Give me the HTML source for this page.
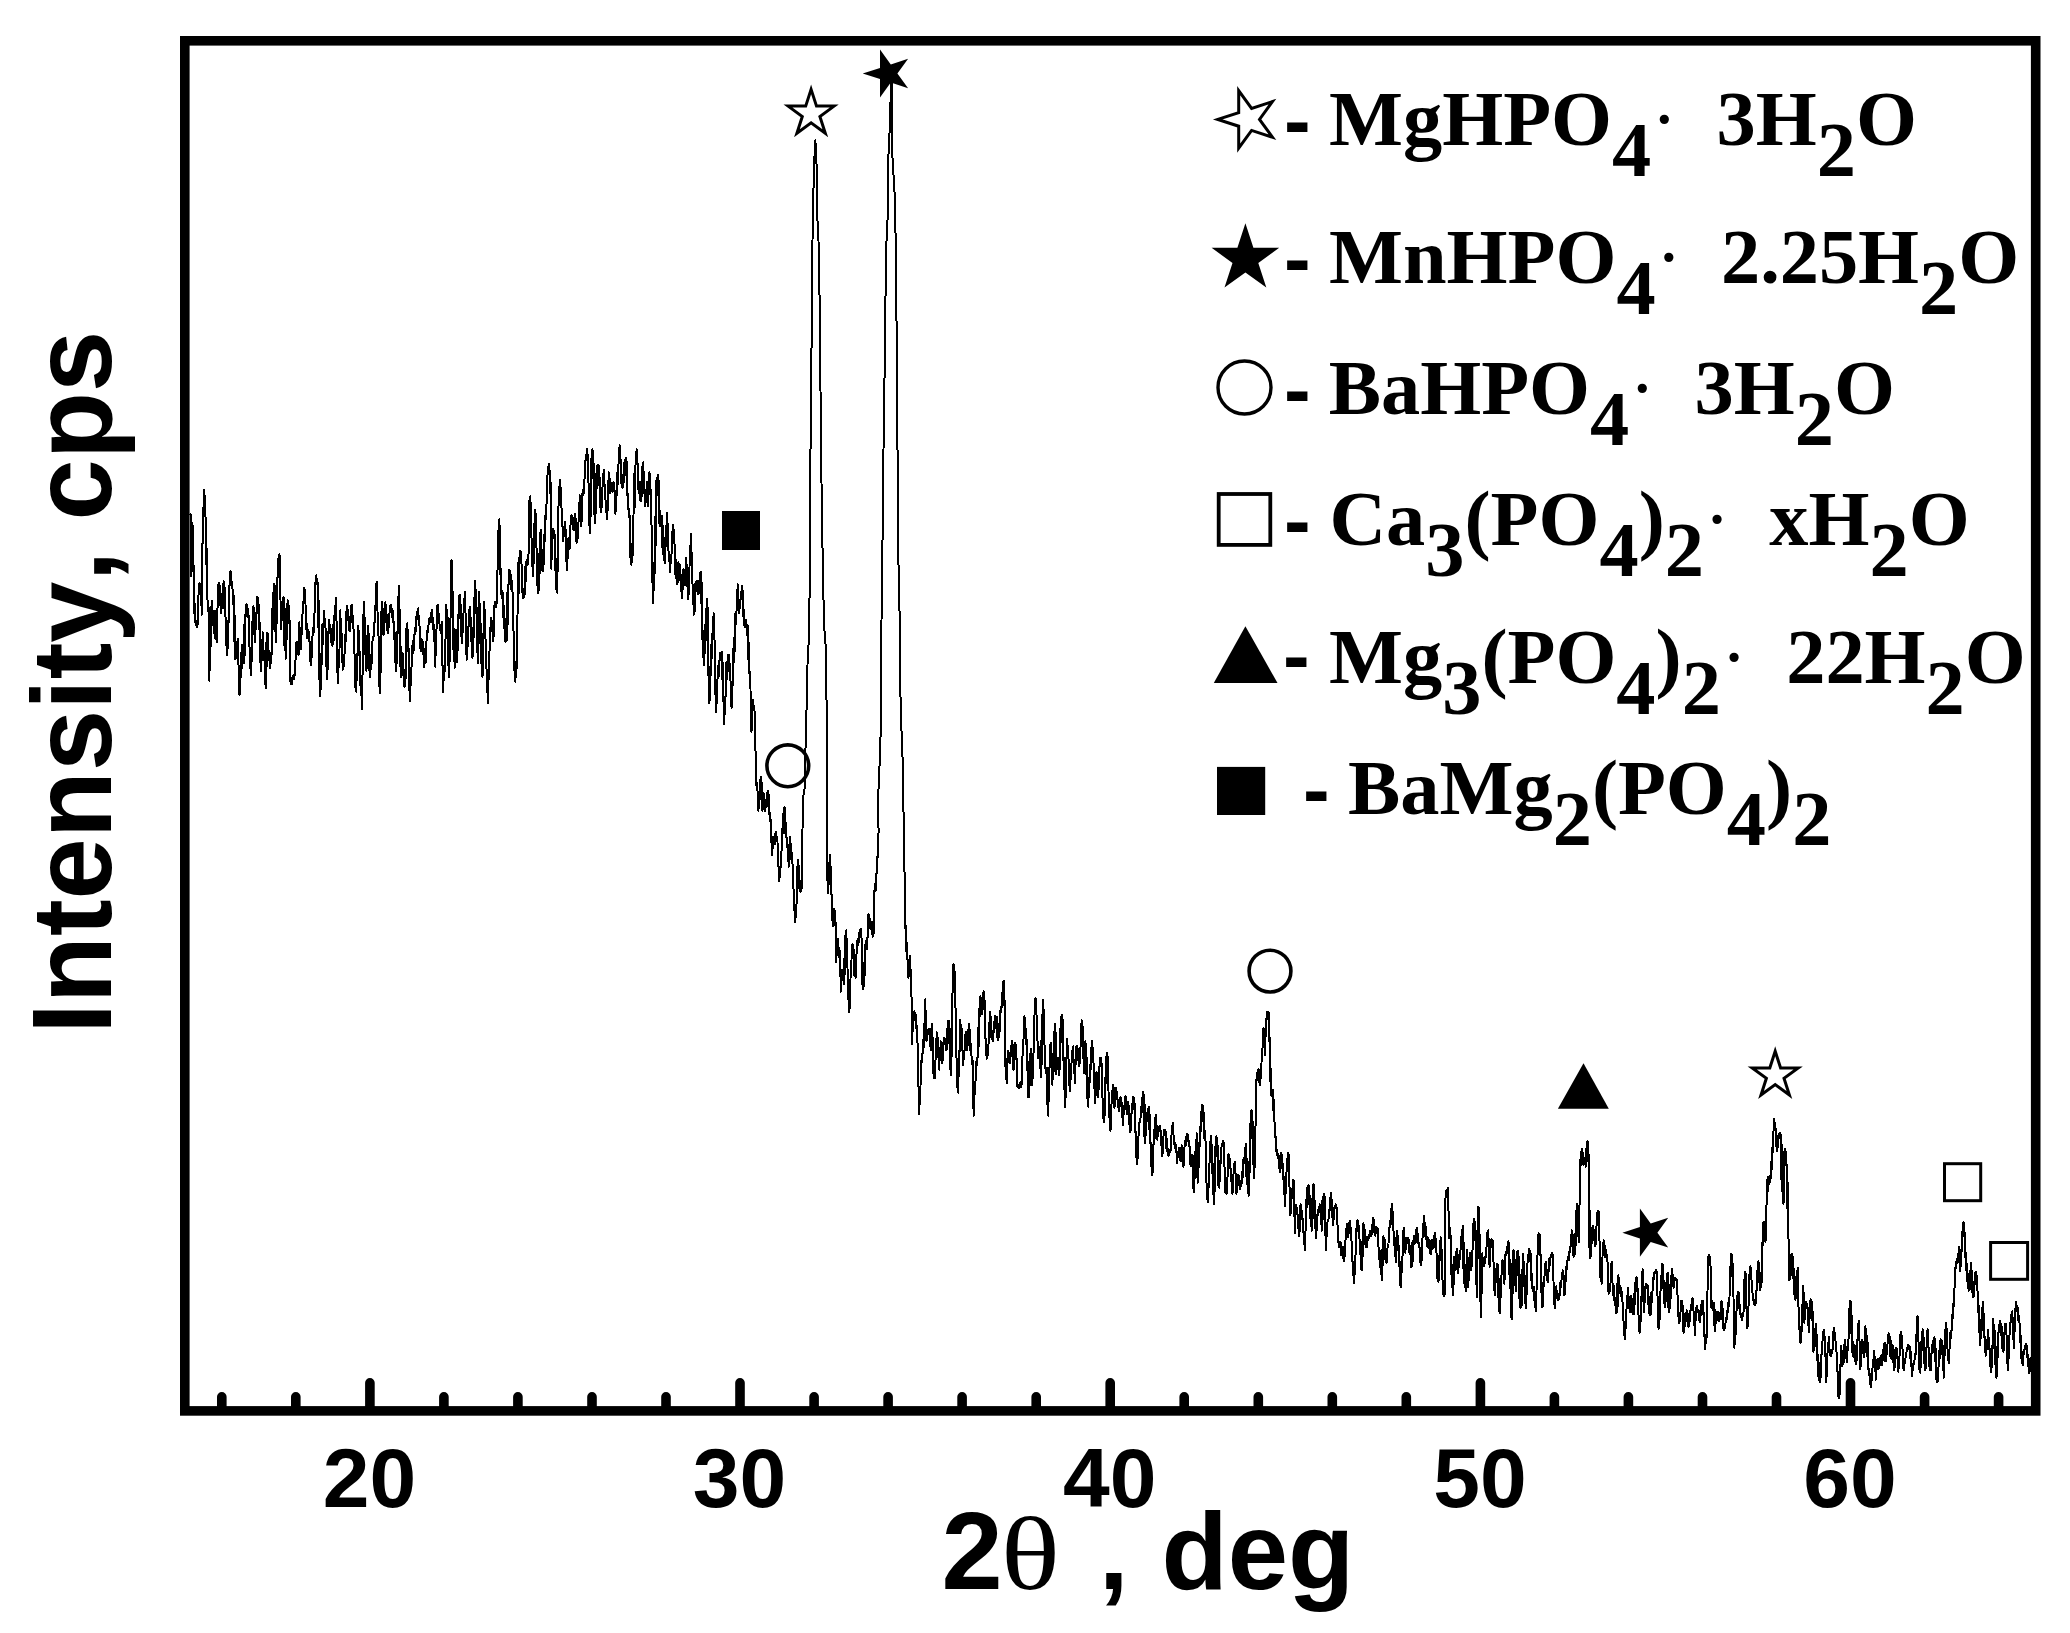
<!DOCTYPE html>
<html><head><meta charset="utf-8"><title>XRD pattern</title>
<style>
html,body{margin:0;padding:0;background:#fff}
svg{display:block}
.ab{font-family:"Liberation Sans",Arial,sans-serif;font-weight:bold;fill:#000;font-kerning:none}
.tb{font-family:"Liberation Serif","Times New Roman",serif;font-weight:bold;fill:#000}
.tr{font-family:"Liberation Serif","Times New Roman",serif;font-weight:normal;fill:#000}
</style></head>
<body>
<svg width="2070" height="1633" viewBox="0 0 2070 1633">
<rect x="0" y="0" width="2070" height="1633" fill="#fff"/>
<path shape-rendering="crispEdges" d="M190.1 515.5 L190.5 514.0 L191.0 518.5 L191.4 517.4 L191.0 576.2 L191.5 536.7 L192.0 567.4 L192.5 522.9 L192.9 571.3 L193.3 541.9 L193.8 596.4 L194.2 613.7 L194.6 603.0 L195.1 622.1 L195.9 620.6 L196.6 627.1 L197.5 625.8 L197.9 615.2 L198.4 597.6 L198.9 585.3 L199.5 582.9 L200.1 586.8 L200.8 584.4 L201.1 605.0 L201.4 591.3 L201.7 614.7 L202.4 548.6 L202.9 525.8 L203.4 512.1 L203.9 489.8 L204.5 514.3 L205.1 495.9 L205.7 526.6 L206.1 564.2 L206.4 538.4 L206.8 572.5 L207.6 603.7 L207.9 610.7 L208.3 603.7 L208.7 609.2 L209.4 680.9 L209.9 640.0 L210.3 660.6 L210.9 622.1 L211.3 606.8 L211.7 616.3 L212.1 601.0 L212.8 625.5 L213.3 610.7 L214.0 633.1 L214.3 616.0 L214.6 628.9 L214.9 611.1 L215.5 638.6 L216.1 619.0 L216.7 642.3 L217.2 626.4 L217.6 602.8 L218.0 585.3 L218.5 586.8 L219.0 582.9 L219.5 584.4 L219.9 604.9 L220.3 593.7 L220.8 612.9 L221.4 594.5 L222.0 607.9 L222.6 590.9 L223.1 592.4 L223.6 581.0 L224.1 581.7 L224.6 614.7 L225.0 588.0 L225.6 622.1 L226.0 645.0 L226.4 628.0 L226.8 655.2 L227.5 621.1 L228.0 647.8 L228.7 614.7 L229.0 587.3 L229.3 601.2 L229.6 578.0 L230.0 579.5 L230.5 571.0 L230.9 572.5 L231.6 587.2 L232.2 582.4 L232.9 596.4 L233.3 604.7 L233.6 595.4 L234.0 603.7 L234.4 642.0 L234.7 615.2 L235.1 658.8 L235.6 652.1 L236.1 658.3 L236.6 653.3 L237.0 642.2 L237.4 649.8 L237.9 638.6 L238.3 649.4 L238.7 679.9 L239.2 693.2 L239.6 694.7 L240.1 677.6 L240.6 677.2 L241.1 652.4 L241.6 669.2 L242.1 645.0 L242.7 661.5 L243.2 649.8 L243.7 663.4 L244.3 624.5 L244.8 654.9 L245.4 614.7 L245.9 616.2 L246.5 603.9 L247.1 604.6 L247.7 616.9 L248.2 608.9 L248.9 622.1 L249.5 646.9 L250.1 651.9 L250.7 675.4 L251.2 648.4 L251.7 661.6 L252.2 640.5 L252.6 615.7 L253.0 634.1 L253.5 606.5 L254.1 624.5 L254.7 624.4 L255.3 642.3 L255.8 613.4 L256.3 625.2 L256.8 598.2 L257.3 596.7 L257.9 599.7 L258.4 598.2 L258.9 629.5 L259.3 604.9 L259.7 636.8 L260.1 642.9 L260.5 662.7 L260.8 670.8 L261.5 640.5 L262.0 660.1 L262.7 632.2 L263.2 635.4 L263.6 654.8 L264.1 658.8 L264.7 662.3 L265.2 681.9 L265.8 688.2 L266.3 642.3 L266.7 666.3 L267.3 633.1 L267.7 633.7 L268.1 648.1 L268.5 649.6 L269.0 660.4 L269.5 657.1 L270.0 668.0 L270.7 652.5 L271.2 663.5 L271.9 646.0 L272.2 608.6 L272.6 629.7 L273.0 592.7 L273.5 594.2 L274.0 583.8 L274.6 585.3 L275.1 631.5 L275.6 605.8 L276.1 642.3 L276.5 599.7 L276.9 623.6 L277.4 585.3 L277.8 559.4 L278.2 577.6 L278.7 555.6 L279.0 558.4 L279.4 554.3 L279.8 556.9 L280.2 577.9 L280.6 606.5 L281.0 629.4 L281.5 611.7 L281.9 619.8 L282.3 603.7 L282.8 605.1 L283.3 597.4 L283.8 598.2 L284.4 645.9 L285.0 609.3 L285.6 658.8 L286.1 612.9 L286.5 642.8 L286.9 607.4 L287.3 608.9 L287.6 600.4 L288.0 601.9 L288.6 622.6 L289.1 605.6 L289.7 625.8 L290.2 677.2 L290.7 684.0 L291.1 677.7 L291.5 682.7 L292.2 684.0 L292.8 676.1 L293.5 677.2 L294.0 678.7 L294.4 673.9 L294.8 675.4 L295.2 662.5 L295.7 658.4 L296.1 646.0 L296.6 641.7 L297.1 647.5 L297.6 643.2 L297.9 643.9 L298.2 653.5 L298.5 655.2 L298.8 649.5 L299.1 628.9 L299.4 622.1 L299.9 643.3 L300.4 631.6 L300.9 649.6 L301.3 637.8 L301.7 633.2 L302.2 622.1 L302.8 605.8 L303.4 604.1 L304.0 588.1 L304.5 588.5 L305.0 602.4 L305.5 603.7 L305.9 629.6 L306.3 612.6 L306.8 636.8 L307.4 638.3 L308.0 629.8 L308.6 631.3 L309.1 640.8 L309.6 641.4 L310.1 649.6 L310.5 661.5 L310.9 652.3 L311.4 665.3 L311.8 642.5 L312.2 654.5 L312.6 631.3 L313.1 627.9 L313.6 632.8 L314.1 629.4 L314.4 621.0 L314.7 599.9 L315.0 590.9 L315.5 582.1 L315.9 583.1 L316.3 575.2 L316.8 584.3 L317.3 578.9 L317.8 585.3 L318.2 627.1 L318.6 600.7 L319.1 640.5 L319.5 679.6 L319.8 653.3 L320.2 696.5 L320.7 686.7 L321.3 669.8 L321.8 658.8 L322.5 623.8 L323.1 644.2 L323.8 611.1 L324.5 624.5 L325.0 619.1 L325.7 631.3 L326.1 639.7 L326.5 666.8 L327.0 679.0 L327.4 637.2 L327.8 669.7 L328.3 631.3 L328.6 632.8 L328.9 620.0 L329.2 621.2 L329.8 633.3 L330.4 625.4 L331.0 636.8 L331.5 643.4 L332.0 640.0 L332.5 646.0 L333.1 625.1 L333.7 640.8 L334.3 622.1 L334.8 606.0 L335.3 616.9 L335.8 598.2 L336.2 615.8 L336.6 622.7 L337.1 640.5 L337.4 672.2 L337.7 652.9 L338.0 683.6 L338.5 668.6 L339.0 663.2 L339.5 649.6 L339.8 629.4 L340.1 628.1 L340.4 610.1 L340.8 636.9 L341.2 619.5 L341.7 640.5 L342.0 661.1 L342.3 648.1 L342.6 669.8 L343.2 662.4 L343.8 666.4 L344.4 658.8 L344.9 634.8 L345.4 648.7 L345.9 622.1 L346.2 611.6 L346.5 616.1 L346.8 605.5 L347.5 619.7 L348.0 609.8 L348.6 622.1 L349.1 630.0 L349.5 624.4 L349.9 631.3 L350.3 616.2 L350.5 624.0 L350.9 612.9 L351.3 605.8 L351.7 610.2 L352.1 604.6 L352.6 617.9 L353.1 617.7 L353.6 631.3 L354.0 646.0 L354.5 653.7 L354.9 668.0 L355.4 687.5 L355.8 673.9 L356.4 691.9 L356.8 654.2 L357.2 679.2 L357.6 649.6 L358.2 625.8 L358.8 633.9 L359.4 649.2 L360.0 658.8 L360.7 695.0 L361.2 678.5 L361.9 709.3 L362.2 684.4 L362.6 672.6 L363.0 649.6 L363.7 601.9 L364.2 608.0 L364.7 623.1 L365.2 631.3 L365.6 661.6 L366.0 642.2 L366.5 670.8 L366.9 635.8 L367.3 664.0 L367.8 625.8 L368.3 648.0 L368.7 634.0 L369.2 658.8 L369.5 670.9 L369.8 663.0 L370.1 677.2 L370.8 655.2 L371.3 669.4 L372.0 649.6 L372.3 651.1 L372.6 637.3 L372.9 638.6 L373.5 638.1 L374.1 623.4 L374.7 622.1 L375.3 611.5 L375.9 593.1 L376.6 581.7 L377.1 591.8 L377.5 611.3 L378.0 622.1 L378.6 638.6 L379.1 672.8 L379.7 693.2 L380.2 650.5 L380.6 672.6 L381.2 640.5 L381.5 611.0 L381.8 634.2 L382.1 601.9 L382.6 627.8 L383.0 608.9 L383.6 634.9 L384.0 611.1 L384.4 629.7 L384.8 603.7 L385.4 602.2 L386.1 616.2 L386.7 614.7 L387.1 630.1 L387.5 618.6 L388.0 633.1 L388.5 619.9 L388.9 627.0 L389.4 614.7 L390.1 606.3 L390.6 610.8 L391.3 604.6 L391.9 617.6 L392.5 609.3 L393.1 622.1 L393.6 621.8 L394.1 637.6 L394.6 640.5 L395.0 662.1 L395.4 650.6 L395.9 670.8 L396.5 632.2 L397.1 663.3 L397.7 622.1 L398.1 596.4 L398.5 610.7 L399.0 586.3 L399.3 607.0 L399.7 610.9 L400.1 631.3 L400.5 666.5 L400.9 647.0 L401.4 677.2 L401.8 674.6 L402.2 656.2 L402.7 653.3 L403.3 667.1 L403.9 674.4 L404.5 687.3 L405.0 670.0 L405.5 679.6 L406.0 668.0 L406.5 628.4 L406.9 650.8 L407.4 623.0 L407.9 647.1 L408.3 635.1 L408.7 658.8 L409.2 690.1 L409.6 671.5 L410.0 701.1 L410.6 683.2 L411.2 676.5 L411.8 658.8 L412.7 641.2 L413.4 653.3 L414.2 638.6 L414.9 627.9 L415.4 634.1 L416.1 622.1 L416.8 612.1 L417.5 619.5 L418.3 608.3 L418.8 625.0 L419.2 616.6 L419.7 631.3 L420.2 648.2 L420.6 638.5 L421.0 651.5 L421.5 641.8 L422.0 647.9 L422.5 640.5 L423.1 653.2 L423.7 655.9 L424.3 667.1 L425.0 648.8 L425.5 663.5 L426.2 646.0 L427.1 630.9 L428.0 632.4 L428.9 619.3 L429.5 617.8 L430.1 621.7 L430.8 620.2 L431.2 612.4 L431.6 618.2 L432.1 610.1 L432.7 628.9 L433.2 618.0 L433.9 631.3 L434.4 637.4 L434.9 659.8 L435.4 667.1 L435.8 629.6 L436.2 655.3 L436.6 622.1 L436.9 622.0 L437.3 606.3 L437.6 604.6 L438.2 605.1 L438.8 620.0 L439.4 622.1 L439.9 630.1 L440.4 625.8 L440.9 633.1 L441.2 625.7 L441.5 628.3 L441.8 622.1 L442.2 640.6 L442.6 671.8 L443.1 691.9 L443.7 666.3 L444.3 680.2 L444.9 658.8 L445.4 645.7 L445.9 618.3 L446.4 604.6 L446.9 622.9 L447.3 609.9 L447.9 631.3 L448.3 665.0 L448.7 639.2 L449.1 677.2 L449.6 637.8 L450.0 661.1 L450.4 622.1 L450.8 607.7 L451.2 576.5 L451.5 559.6 L451.9 577.7 L452.4 586.3 L452.8 603.7 L453.5 650.0 L454.0 628.9 L454.6 668.0 L455.2 638.1 L455.6 656.2 L456.1 629.4 L456.5 643.9 L457.0 647.9 L457.4 662.5 L457.9 614.8 L458.2 647.3 L458.7 603.7 L459.0 595.9 L459.3 600.1 L459.6 594.5 L460.1 615.4 L460.6 603.9 L461.1 622.1 L461.4 636.4 L461.7 632.4 L462.0 643.2 L462.5 616.5 L463.0 632.4 L463.5 612.9 L463.9 598.6 L464.3 605.5 L464.8 591.8 L465.1 612.6 L465.3 603.7 L465.7 622.1 L466.0 654.3 L466.3 634.3 L466.6 659.7 L467.2 643.4 L467.8 646.4 L468.4 631.3 L468.9 610.3 L469.4 626.1 L469.9 606.5 L470.3 620.4 L470.7 617.2 L471.2 631.3 L471.6 645.2 L472.0 644.5 L472.5 657.9 L473.0 627.9 L473.4 645.3 L473.9 612.9 L474.4 597.8 L474.9 595.7 L475.4 580.7 L475.9 613.2 L476.2 597.2 L476.7 622.1 L477.1 652.2 L477.5 637.0 L478.0 663.4 L478.4 607.4 L478.8 642.9 L479.2 591.8 L479.7 621.5 L480.1 604.1 L480.7 631.3 L481.3 663.3 L481.8 648.3 L482.5 677.2 L483.0 649.4 L483.6 629.9 L484.1 601.9 L484.6 611.0 L485.1 630.4 L485.6 640.5 L486.3 665.4 L487.1 679.1 L487.8 702.9 L488.3 682.2 L488.8 677.5 L489.3 658.8 L489.8 641.1 L490.3 634.0 L490.8 617.5 L491.3 629.1 L491.8 620.6 L492.4 631.3 L492.8 629.8 L493.1 641.0 L493.5 639.5 L493.8 609.7 L494.1 634.0 L494.4 605.5 L495.2 602.2 L495.9 607.0 L496.6 603.7 L496.9 588.4 L497.2 582.2 L497.6 567.0 L498.2 530.6 L498.8 551.3 L499.4 519.2 L499.7 545.4 L500.0 525.8 L500.3 557.8 L500.6 582.1 L500.9 568.7 L501.2 592.7 L501.8 597.9 L502.4 591.2 L503.1 596.4 L503.7 627.8 L504.3 606.2 L504.9 638.6 L505.5 641.7 L506.1 638.5 L506.7 640.5 L507.3 592.4 L507.7 624.5 L508.2 585.3 L508.6 584.6 L509.1 571.0 L509.5 569.7 L509.9 574.6 L510.3 572.3 L510.8 576.2 L511.4 590.1 L512.0 580.4 L512.6 594.5 L513.1 620.6 L513.6 633.9 L514.1 658.8 L514.5 670.9 L514.9 671.6 L515.4 681.8 L515.9 661.6 L516.3 676.9 L516.8 658.8 L517.1 646.4 L517.5 615.3 L517.8 600.0 L518.3 562.5 L518.7 593.2 L519.2 557.8 L519.8 559.3 L520.3 550.8 L520.9 552.3 L521.4 559.5 L521.9 580.5 L522.4 590.9 L522.8 597.8 L523.3 590.3 L523.8 597.3 L524.3 588.8 L524.7 594.2 L525.1 585.3 L525.4 565.9 L525.7 581.0 L526.0 563.3 L526.8 560.0 L527.6 564.8 L528.4 561.5 L529.2 511.9 L529.5 500.5 L529.9 508.1 L530.3 496.2 L530.7 507.0 L531.1 525.5 L531.5 537.6 L532.1 566.6 L532.5 549.6 L533.0 576.2 L533.7 524.2 L534.2 563.6 L534.8 510.0 L535.3 523.7 L535.7 513.4 L536.1 530.2 L536.6 552.0 L537.0 563.9 L537.4 585.3 L537.8 583.8 L538.1 592.9 L538.5 592.7 L539.0 554.2 L539.4 583.5 L539.8 548.6 L540.3 533.1 L540.6 542.4 L541.1 530.2 L541.4 547.2 L541.7 553.2 L542.0 569.7 L542.5 565.5 L543.0 571.2 L543.5 567.0 L543.9 534.4 L544.3 556.8 L544.8 521.0 L545.3 515.8 L545.7 519.8 L546.2 515.5 L546.7 497.2 L547.1 493.0 L547.5 475.1 L548.2 466.4 L548.7 473.3 L549.4 463.7 L549.9 492.8 L550.3 470.7 L550.8 497.2 L551.4 568.8 L551.8 540.1 L552.2 554.6 L552.7 530.2 L553.3 528.7 L553.9 533.6 L554.5 532.1 L555.0 570.3 L555.3 543.6 L555.8 576.2 L556.4 590.1 L556.9 582.5 L557.4 592.7 L557.8 523.7 L558.2 566.4 L558.5 506.3 L558.9 486.6 L559.3 501.4 L559.7 479.7 L560.1 496.1 L560.5 486.6 L560.9 502.7 L561.4 505.2 L561.9 518.0 L562.4 521.0 L562.7 536.1 L563.0 527.2 L563.3 541.2 L563.8 529.2 L564.2 536.2 L564.6 522.9 L564.9 528.1 L565.2 521.5 L565.5 526.6 L566.0 561.1 L566.5 540.4 L567.0 570.6 L567.4 548.2 L567.8 558.2 L568.3 539.4 L568.7 537.9 L569.1 548.5 L569.6 548.6 L570.1 542.3 L570.5 525.2 L571.0 516.4 L571.6 514.9 L572.3 518.9 L572.9 517.4 L573.2 528.8 L573.5 520.7 L573.8 530.2 L574.2 519.0 L574.6 527.4 L575.1 513.7 L575.6 519.1 L576.1 535.5 L576.6 543.1 L577.2 534.3 L577.7 538.6 L578.4 530.2 L578.8 502.5 L579.2 516.9 L579.7 495.3 L580.2 509.0 L580.6 513.8 L581.1 526.6 L581.6 497.4 L582.0 520.7 L582.4 493.5 L582.9 490.1 L583.4 495.0 L583.9 491.6 L584.3 485.9 L584.7 472.9 L585.2 465.9 L585.8 454.7 L586.4 460.2 L587.0 449.0 L587.5 453.4 L588.0 476.5 L588.5 482.5 L588.9 493.5 L589.3 520.9 L589.8 533.0 L590.3 485.7 L590.7 516.2 L591.2 465.9 L591.7 453.3 L592.1 462.9 L592.5 449.0 L593.0 478.3 L593.5 462.2 L594.0 484.3 L594.5 514.8 L594.8 497.4 L595.3 522.9 L595.8 473.9 L596.2 512.7 L596.8 465.9 L597.4 467.4 L598.0 464.4 L598.6 465.9 L599.0 485.6 L599.4 472.7 L599.9 493.5 L600.3 507.7 L600.6 497.1 L601.0 511.9 L601.4 495.4 L601.8 507.0 L602.3 493.5 L602.9 474.3 L603.5 485.0 L604.1 469.6 L604.7 490.1 L605.3 493.9 L605.9 511.9 L606.4 510.4 L606.9 518.9 L607.4 517.4 L607.9 480.7 L608.3 510.2 L608.7 472.4 L609.2 491.0 L609.5 477.2 L610.0 493.5 L610.4 492.7 L610.7 483.8 L611.1 482.5 L611.7 482.9 L612.3 491.1 L612.9 491.6 L613.4 482.3 L613.8 489.9 L614.2 483.4 L614.5 489.4 L614.8 506.7 L615.1 513.7 L615.7 510.6 L616.3 497.5 L617.0 493.5 L617.5 472.0 L617.9 484.6 L618.4 464.1 L618.9 462.7 L619.4 448.1 L619.9 445.4 L620.3 457.5 L620.6 459.7 L621.0 471.4 L621.5 483.7 L622.0 474.7 L622.5 488.0 L623.0 477.6 L623.4 485.1 L623.9 475.1 L624.5 462.1 L625.0 469.0 L625.6 457.7 L626.1 475.5 L626.6 461.1 L627.1 478.8 L627.5 496.4 L627.9 493.7 L628.4 510.0 L628.8 508.5 L629.3 517.0 L629.8 515.5 L630.2 556.8 L630.4 531.5 L630.7 563.3 L631.4 564.8 L632.0 555.0 L632.6 555.9 L632.9 521.9 L633.2 545.4 L633.5 515.5 L634.1 474.1 L634.7 507.5 L635.3 465.9 L635.8 464.2 L636.3 451.8 L636.8 449.4 L637.2 461.5 L637.7 463.5 L638.1 475.1 L638.4 489.4 L638.7 482.0 L639.0 493.5 L639.6 492.3 L640.2 500.2 L640.9 500.8 L641.3 481.8 L641.7 496.3 L642.1 475.1 L642.5 466.0 L642.9 471.3 L643.2 462.3 L643.7 476.1 L644.1 480.8 L644.5 493.5 L644.8 504.4 L645.1 497.7 L645.4 506.3 L646.0 489.8 L646.4 501.7 L646.9 481.5 L647.3 493.6 L647.8 494.1 L648.2 506.3 L648.6 477.3 L649.0 493.7 L649.5 472.4 L650.0 487.8 L650.5 489.0 L651.0 502.7 L651.3 512.7 L651.6 530.0 L651.9 541.2 L652.3 582.2 L652.7 562.5 L653.2 602.8 L653.7 577.5 L654.1 590.4 L654.6 570.6 L655.1 516.6 L655.5 547.3 L655.9 493.5 L656.6 478.3 L657.1 486.9 L657.8 474.7 L658.3 495.1 L658.7 481.0 L659.2 502.7 L659.5 523.5 L659.8 510.9 L660.1 526.6 L660.7 525.4 L661.4 517.1 L662.0 515.5 L662.5 547.8 L662.9 525.7 L663.4 554.1 L664.0 560.3 L664.5 556.0 L665.1 563.3 L665.7 526.2 L666.3 546.2 L666.9 512.8 L667.4 517.9 L667.9 540.7 L668.4 548.6 L669.0 561.2 L669.6 561.3 L670.2 572.5 L670.7 557.6 L671.2 563.3 L671.7 548.6 L672.3 531.5 L672.8 543.6 L673.4 524.7 L673.9 541.0 L674.3 538.6 L674.8 552.3 L675.6 578.0 L676.3 560.1 L677.0 584.4 L677.5 584.3 L678.0 564.6 L678.5 562.4 L679.2 571.4 L679.7 564.5 L680.3 576.2 L680.8 587.1 L681.3 587.4 L681.8 598.2 L682.4 574.8 L682.9 589.6 L683.5 568.8 L684.0 579.7 L684.4 571.7 L684.9 585.3 L685.4 572.9 L685.9 570.0 L686.4 557.8 L687.0 586.1 L687.5 570.6 L688.1 599.1 L688.6 577.7 L689.0 593.9 L689.5 567.0 L690.0 549.6 L690.4 550.6 L690.8 533.5 L691.3 540.6 L691.8 568.2 L692.3 576.2 L692.8 594.9 L693.3 598.3 L693.8 614.7 L694.2 601.0 L694.6 611.5 L695.0 594.5 L695.5 583.4 L696.0 591.4 L696.5 580.7 L697.1 581.4 L697.6 592.1 L698.2 594.5 L699.0 592.7 L699.7 575.6 L700.6 571.6 L701.1 603.7 L701.6 582.1 L702.2 620.6 L702.8 657.2 L703.4 631.3 L704.0 664.7 L704.6 628.7 L705.0 653.6 L705.5 624.3 L705.9 610.2 L706.4 612.3 L706.8 598.6 L707.3 640.1 L707.8 607.9 L708.3 651.9 L708.6 685.9 L708.9 666.9 L709.2 703.3 L709.8 699.0 L710.4 677.6 L711.0 670.2 L711.5 644.5 L712.0 657.7 L712.5 633.5 L712.9 629.3 L713.3 618.8 L713.8 613.3 L714.1 632.6 L714.4 633.5 L714.7 651.9 L715.1 666.8 L715.5 695.1 L716.0 712.5 L716.5 685.2 L716.9 703.4 L717.5 679.4 L718.1 666.0 L718.6 676.6 L719.3 662.9 L720.1 653.3 L720.9 660.5 L721.7 651.9 L722.1 679.4 L722.5 661.0 L723.0 688.6 L723.4 697.4 L723.8 714.0 L724.2 724.1 L724.8 697.2 L725.2 713.9 L725.7 688.6 L726.4 662.3 L726.9 679.6 L727.6 659.2 L728.0 654.6 L728.5 658.3 L729.0 654.6 L729.5 671.7 L729.9 663.6 L730.3 679.4 L730.7 682.6 L731.2 702.7 L731.6 707.9 L732.1 691.7 L732.6 685.2 L733.1 670.2 L733.7 638.2 L734.3 662.5 L734.9 633.5 L735.5 613.5 L736.1 624.5 L736.7 605.9 L737.0 595.6 L737.3 595.0 L737.7 584.4 L738.1 599.5 L738.5 600.3 L738.9 613.3 L739.5 604.3 L739.9 608.2 L740.4 600.4 L740.9 592.6 L741.4 592.5 L741.9 585.7 L742.3 599.6 L742.7 590.3 L743.2 605.9 L743.6 620.4 L744.0 609.5 L744.5 626.1 L745.1 627.6 L745.7 619.6 L746.3 620.6 L746.9 634.9 L747.5 624.9 L748.1 637.2 L748.5 660.2 L748.8 642.9 L749.2 662.9 L749.7 681.2 L750.1 671.5 L750.5 688.6 L750.8 719.3 L751.1 704.3 L751.4 731.8 L751.7 729.0 L752.0 710.4 L752.4 707.0 L752.7 700.0 L753.0 708.2 L753.3 701.5 L753.7 709.9 L754.1 705.7 L754.6 712.5 L755.1 743.7 L755.4 742.8 L755.7 762.1 L756.0 762.1 L756.6 789.6 L757.3 783.2 L757.7 798.0 L758.0 796.2 L758.4 810.8 L758.9 800.5 L759.3 805.1 L759.7 795.2 L760.2 780.2 L760.7 788.4 L761.2 776.8 L761.6 783.9 L762.0 802.1 L762.5 810.8 L762.9 795.2 L763.3 808.0 L763.7 793.3 L764.3 805.4 L764.7 799.3 L765.2 810.8 L765.6 801.7 L766.1 807.6 L766.5 798.8 L767.0 793.0 L767.5 796.6 L768.0 790.6 L768.4 806.9 L768.8 795.2 L769.3 809.8 L769.8 820.6 L770.2 813.2 L770.7 822.7 L771.2 829.9 L771.6 846.8 L772.0 854.8 L772.4 854.7 L772.7 839.7 L773.1 837.3 L773.5 841.7 L774.0 838.5 L774.4 842.9 L774.8 844.4 L775.3 833.5 L775.7 833.7 L776.2 832.2 L776.7 838.8 L777.2 837.3 L777.5 842.2 L777.8 859.5 L778.1 866.7 L778.5 865.2 L778.9 881.3 L779.4 881.4 L779.8 871.7 L780.3 871.8 L780.8 863.1 L781.3 861.8 L781.7 842.5 L782.1 839.2 L783.0 813.9 L783.7 833.4 L784.5 807.0 L785.1 811.6 L785.7 827.3 L786.3 833.7 L786.9 846.8 L787.3 838.4 L787.8 852.0 L788.1 861.6 L788.4 856.9 L788.7 866.7 L789.2 845.8 L789.6 860.1 L790.0 837.3 L790.5 852.6 L790.9 843.6 L791.3 857.6 L791.7 859.1 L792.0 852.4 L792.4 853.9 L792.7 880.6 L793.0 865.6 L793.3 885.1 L794.1 899.8 L794.4 910.3 L794.8 911.7 L795.2 921.9 L795.6 913.5 L796.0 916.9 L796.4 909.0 L796.8 891.3 L797.1 884.1 L797.4 866.7 L797.7 868.0 L798.0 860.2 L798.3 860.3 L798.6 874.0 L798.9 865.7 L799.2 875.9 L799.5 888.8 L799.8 880.4 L800.1 890.6 L800.5 892.1 L801.0 889.1 L801.4 890.6 L802.1 878.7 L802.5 830.0 L802.9 798.8 L804.7 787.8 L805.6 743.7 L806.6 707.0 L807.5 664.7 L808.8 639.0 L809.7 587.6 L809.9 560.0 L810.5 450.0 L811.7 330.0 L812.1 287.0 L812.5 240.0 L813.0 214.0 L813.9 168.0 L815.4 140.2 L816.7 168.0 L817.2 214.0 L818.5 241.0 L819.4 287.0 L820.0 330.0 L821.0 450.0 L822.7 560.0 L823.1 587.6 L824.6 633.5 L825.9 648.0 L826.8 725.0 L827.3 780.5 L827.3 830.0 L827.3 875.9 L828.0 893.4 L828.3 892.8 L828.7 877.6 L829.0 875.9 L829.3 862.8 L829.6 871.0 L829.9 856.6 L830.2 855.1 L830.5 866.9 L830.8 866.7 L831.4 894.3 L831.7 894.4 L832.0 910.9 L832.3 912.7 L832.6 924.6 L832.9 914.8 L833.2 926.4 L833.5 925.5 L833.8 910.9 L834.1 909.0 L834.4 916.4 L834.7 910.7 L835.0 918.2 L835.3 925.2 L835.6 922.7 L835.9 929.2 L836.3 962.3 L836.7 944.6 L837.0 955.2 L837.4 940.2 L837.8 938.7 L838.3 948.2 L838.7 947.6 L839.2 957.2 L839.5 949.3 L840.0 958.6 L840.3 975.1 L840.6 977.3 L840.9 991.7 L841.4 980.2 L841.9 979.8 L842.4 969.6 L842.8 980.1 L843.2 972.0 L843.7 984.3 L844.2 958.5 L844.6 974.8 L845.1 949.4 L845.6 932.1 L846.0 942.3 L846.4 930.1 L846.8 956.5 L847.1 940.4 L847.5 967.8 L848.0 998.9 L848.4 982.4 L848.8 1012.4 L849.3 989.0 L849.8 1007.9 L850.3 986.2 L851.0 961.4 L851.5 960.1 L852.0 946.4 L852.5 943.9 L853.0 954.6 L853.4 946.1 L853.9 958.6 L854.5 975.6 L855.0 964.4 L855.6 977.9 L856.1 973.1 L856.6 950.2 L857.1 943.9 L857.7 938.7 L858.3 945.1 L858.9 940.2 L859.3 932.7 L859.8 937.4 L860.2 932.0 L860.6 928.7 L860.9 933.3 L861.3 930.1 L861.7 944.9 L862.1 972.2 L862.6 988.0 L863.1 989.5 L863.6 984.7 L864.1 986.2 L864.4 962.1 L864.7 975.4 L865.0 949.4 L865.3 950.9 L865.6 940.6 L865.9 942.1 L866.3 947.6 L866.7 944.5 L867.2 949.4 L867.5 936.8 L867.8 937.6 L868.1 925.5 L868.4 914.4 L868.7 923.8 L869.0 914.5 L869.5 924.4 L870.0 919.1 L870.5 929.2 L870.9 923.5 L871.3 926.7 L871.8 921.9 L872.1 933.9 L872.4 927.7 L872.7 936.6 L873.1 930.5 L873.5 933.7 L874.0 929.2 L874.5 890.6 L875.0 883.6 L875.5 891.4 L876.0 885.1 L876.7 869.5 L877.1 871.0 L877.5 856.1 L877.8 857.6 L878.6 830.0 L877.7 808.0 L879.7 762.0 L881.5 707.0 L881.0 659.0 L882.3 560.0 L883.5 450.0 L885.2 330.0 L885.6 287.0 L886.5 241.0 L887.8 214.0 L888.3 158.0 L889.8 127.0 L891.0 85.0 L891.5 72.0 L892.0 85.0 L892.5 158.0 L894.7 195.0 L895.7 241.0 L896.2 287.0 L896.6 330.0 L897.5 450.0 L898.4 560.0 L899.9 628.0 L900.6 707.0 L902.7 762.0 L903.6 817.0 L903.9 864.9 L904.3 864.8 L904.8 882.6 L905.2 885.1 L905.2 916.3 L905.5 928.6 L905.8 926.1 L906.1 938.4 L906.6 955.3 L907.1 942.6 L907.6 964.1 L907.9 962.7 L908.2 977.3 L908.5 977.9 L909.0 960.3 L909.3 969.3 L909.8 955.8 L910.1 967.8 L910.4 964.8 L910.7 975.1 L911.0 978.3 L911.3 993.6 L911.6 999.0 L912.2 1044.0 L912.6 1029.4 L913.0 1026.9 L913.5 1012.8 L914.0 1017.0 L914.4 1011.3 L914.9 1015.5 L915.4 1020.7 L915.8 1014.6 L916.2 1019.2 L916.6 1031.0 L917.0 1026.0 L917.3 1037.6 L917.6 1045.3 L917.9 1060.3 L918.2 1068.8 L919.0 1114.4 L919.5 1093.8 L919.9 1104.3 L920.5 1087.2 L920.8 1065.3 L921.1 1079.2 L921.4 1060.6 L922.0 1062.1 L922.6 1051.7 L923.2 1053.2 L923.7 1031.5 L924.0 1047.5 L924.5 1022.9 L924.8 1008.8 L925.1 1011.4 L925.4 999.4 L925.8 1035.9 L926.1 1016.1 L926.5 1041.3 L927.0 1031.4 L927.4 1037.4 L927.8 1030.2 L928.4 1033.6 L929.0 1028.7 L929.6 1032.1 L930.1 1046.6 L930.5 1038.5 L930.9 1050.5 L931.4 1028.1 L931.9 1040.3 L932.4 1023.8 L932.7 1059.9 L933.0 1038.2 L933.3 1068.8 L933.6 1075.3 L933.9 1070.8 L934.2 1078.0 L934.7 1078.4 L935.2 1060.9 L935.7 1059.6 L936.0 1039.3 L936.3 1055.1 L936.6 1032.1 L937.1 1046.4 L937.5 1036.0 L937.9 1050.5 L938.3 1052.7 L938.8 1065.6 L939.2 1069.7 L939.7 1049.9 L940.1 1060.5 L940.7 1041.3 L941.2 1058.7 L941.6 1046.8 L942.1 1063.3 L942.6 1049.4 L943.0 1060.1 L943.4 1043.1 L944.0 1037.9 L944.6 1043.7 L945.3 1039.4 L945.7 1046.8 L946.1 1042.0 L946.5 1050.5 L947.1 1029.3 L947.5 1041.6 L948.0 1021.1 L948.4 1025.8 L948.9 1020.7 L949.3 1024.7 L949.8 1069.3 L950.3 1035.8 L950.8 1075.3 L951.2 1028.4 L951.6 1056.9 L952.1 1013.7 L952.4 996.0 L952.8 986.7 L953.2 969.6 L953.5 963.7 L953.8 968.9 L954.1 965.0 L954.4 977.6 L954.7 971.5 L955.0 982.5 L955.3 1005.8 L955.6 1008.5 L955.9 1032.1 L956.2 1049.0 L956.5 1057.7 L956.8 1074.3 L957.3 1087.7 L957.7 1082.2 L958.1 1092.7 L958.5 1077.4 L959.0 1075.2 L959.4 1059.6 L959.7 1033.6 L960.0 1051.2 L960.3 1020.1 L960.8 1030.6 L961.3 1024.6 L961.8 1032.1 L962.2 1045.7 L962.6 1052.5 L963.1 1065.2 L963.6 1052.8 L964.0 1059.5 L964.5 1050.5 L965.0 1048.4 L965.4 1034.8 L965.8 1032.1 L966.3 1045.5 L966.8 1036.0 L967.3 1050.5 L967.8 1029.9 L968.3 1045.3 L968.8 1023.8 L969.2 1035.8 L969.6 1029.4 L970.1 1041.3 L970.6 1053.5 L971.0 1044.2 L971.5 1056.0 L972.0 1064.1 L972.4 1057.8 L972.8 1065.2 L973.1 1075.0 L973.4 1104.6 L973.7 1115.7 L974.2 1113.4 L974.6 1090.3 L975.0 1087.2 L975.4 1085.9 L975.7 1071.9 L976.1 1068.8 L976.7 1057.6 L977.2 1064.8 L977.8 1052.3 L978.3 1027.8 L978.7 1046.6 L979.2 1022.9 L979.7 999.7 L980.1 1016.0 L980.5 996.3 L981.0 1009.4 L981.5 1000.0 L982.0 1013.7 L982.4 999.1 L982.8 1009.6 L983.3 995.3 L983.6 991.1 L983.9 996.0 L984.2 992.6 L984.5 999.5 L984.8 1015.1 L985.1 1022.9 L985.6 1041.8 L986.1 1040.0 L986.6 1058.7 L987.2 1051.8 L987.8 1055.5 L988.4 1050.5 L988.9 1022.9 L989.4 1042.4 L989.9 1011.9 L990.3 1024.4 L990.7 1016.1 L991.1 1028.6 L991.5 1038.1 L991.9 1032.9 L992.3 1039.6 L992.8 1041.1 L993.2 1030.8 L993.6 1032.3 L994.0 1021.6 L994.4 1029.9 L994.7 1016.7 L995.2 1015.5 L995.6 1028.0 L996.0 1028.6 L996.3 1019.6 L996.6 1026.0 L996.9 1016.7 L997.4 1037.2 L997.8 1023.4 L998.2 1040.5 L998.7 1032.3 L999.2 1037.0 L999.7 1028.6 L1000.2 1011.1 L1000.7 1012.6 L1001.1 1006.9 L1001.5 1008.4 L1001.9 997.1 L1002.1 1003.1 L1002.5 991.9 L1002.9 991.7 L1003.3 982.5 L1003.7 980.8 L1004.1 1005.3 L1004.3 988.2 L1004.7 1010.2 L1005.2 1059.8 L1005.7 1070.3 L1006.2 1073.4 L1006.7 1083.2 L1007.1 1079.3 L1007.5 1058.0 L1008.0 1050.6 L1008.4 1059.9 L1008.8 1052.7 L1009.2 1061.7 L1009.7 1063.2 L1010.2 1056.1 L1010.7 1056.2 L1011.1 1045.6 L1011.6 1049.5 L1012.0 1040.5 L1012.5 1042.9 L1013.0 1064.1 L1013.5 1069.9 L1013.8 1068.3 L1014.1 1047.7 L1014.4 1045.1 L1014.8 1042.7 L1015.2 1046.6 L1015.7 1044.2 L1016.0 1058.7 L1016.3 1048.8 L1016.6 1061.7 L1016.9 1083.6 L1017.2 1066.4 L1017.5 1087.4 L1018.3 1085.0 L1019.1 1088.5 L1019.9 1086.5 L1020.5 1082.2 L1021.1 1087.3 L1021.7 1083.7 L1022.0 1079.6 L1022.3 1059.9 L1022.7 1052.5 L1023.0 1041.6 L1023.3 1046.1 L1023.6 1035.9 L1023.9 1018.7 L1024.2 1029.4 L1024.5 1016.1 L1024.9 1030.9 L1025.3 1022.0 L1025.8 1037.8 L1026.3 1044.4 L1026.7 1039.4 L1027.3 1047.0 L1027.6 1081.5 L1027.9 1062.0 L1028.2 1097.5 L1028.6 1097.4 L1029.0 1088.0 L1029.5 1087.4 L1030.0 1054.3 L1030.4 1072.6 L1030.9 1048.8 L1031.4 1076.6 L1031.8 1062.0 L1032.2 1085.5 L1032.6 1070.4 L1032.9 1077.8 L1033.3 1065.3 L1033.7 1043.0 L1034.2 1032.8 L1034.6 1010.2 L1035.0 1011.7 L1035.5 998.3 L1035.9 999.8 L1036.3 1005.3 L1036.6 1019.1 L1037.0 1024.9 L1037.4 1039.6 L1037.8 1043.6 L1038.3 1058.0 L1038.7 1050.5 L1039.1 1055.8 L1039.6 1047.0 L1040.1 1068.2 L1040.5 1056.6 L1041.0 1077.3 L1041.4 1040.5 L1041.6 1065.1 L1042.0 1028.6 L1042.3 1014.3 L1042.7 1013.9 L1043.1 999.8 L1043.4 1002.3 L1043.8 1025.2 L1044.2 1028.6 L1044.6 1050.2 L1045.1 1051.9 L1045.6 1072.7 L1046.0 1068.5 L1046.5 1071.3 L1046.9 1068.1 L1047.4 1104.3 L1047.9 1086.6 L1048.4 1115.9 L1048.8 1069.8 L1049.2 1096.1 L1049.7 1052.5 L1050.2 1044.4 L1050.6 1048.5 L1051.1 1042.4 L1051.6 1072.7 L1052.0 1053.6 L1052.4 1084.6 L1052.9 1062.5 L1053.4 1078.8 L1053.9 1052.5 L1054.3 1031.9 L1054.7 1045.3 L1055.2 1024.0 L1055.6 1059.9 L1055.9 1032.7 L1056.3 1074.5 L1056.7 1060.3 L1057.1 1069.5 L1057.6 1058.0 L1058.2 1058.0 L1058.8 1074.0 L1059.4 1075.4 L1059.7 1050.6 L1060.0 1069.0 L1060.3 1047.0 L1060.6 1021.1 L1060.9 1042.2 L1061.2 1016.7 L1061.7 1020.9 L1062.1 1015.2 L1062.5 1019.4 L1062.9 1059.9 L1063.2 1028.2 L1063.6 1065.3 L1064.1 1083.4 L1064.5 1090.2 L1064.9 1107.6 L1065.2 1079.6 L1065.5 1100.6 L1065.8 1076.4 L1066.3 1060.8 L1066.7 1054.4 L1067.1 1039.1 L1067.6 1057.5 L1068.1 1045.4 L1068.6 1061.7 L1069.0 1067.1 L1069.4 1084.3 L1069.9 1091.1 L1070.4 1077.3 L1070.8 1079.5 L1071.3 1067.2 L1071.8 1057.6 L1072.2 1057.0 L1072.6 1047.9 L1073.1 1046.4 L1073.6 1061.3 L1074.1 1059.8 L1074.4 1073.7 L1074.7 1071.0 L1075.0 1082.8 L1075.4 1065.3 L1075.9 1063.1 L1076.3 1047.0 L1076.8 1045.5 L1077.3 1050.3 L1077.8 1048.8 L1078.3 1059.9 L1078.7 1055.4 L1079.2 1066.3 L1079.7 1050.7 L1080.1 1062.8 L1080.5 1047.0 L1081.0 1044.1 L1081.4 1024.3 L1081.8 1020.3 L1082.3 1037.5 L1082.8 1027.0 L1083.3 1043.3 L1083.6 1065.4 L1083.9 1053.8 L1084.2 1073.6 L1084.6 1068.0 L1085.1 1049.1 L1085.5 1041.5 L1086.0 1074.3 L1086.4 1051.4 L1087.0 1080.0 L1087.4 1098.9 L1087.8 1089.5 L1088.2 1106.7 L1088.8 1078.0 L1089.2 1097.0 L1089.7 1074.5 L1090.2 1065.1 L1090.6 1069.5 L1091.0 1061.7 L1091.4 1047.4 L1091.7 1051.5 L1092.1 1040.5 L1092.5 1051.3 L1093.0 1048.2 L1093.4 1058.0 L1093.9 1077.9 L1094.4 1084.2 L1094.9 1103.0 L1095.4 1078.1 L1095.9 1095.6 L1096.5 1071.8 L1096.9 1074.4 L1097.2 1092.0 L1097.6 1097.5 L1098.1 1080.3 L1098.5 1090.8 L1098.9 1074.5 L1099.3 1076.0 L1099.7 1058.5 L1100.2 1058.0 L1100.7 1066.0 L1101.2 1058.1 L1101.7 1065.3 L1102.0 1080.4 L1102.3 1087.6 L1102.6 1102.1 L1103.1 1102.1 L1103.5 1119.1 L1104.0 1122.3 L1104.5 1117.3 L1104.9 1095.6 L1105.3 1089.2 L1105.7 1065.7 L1105.9 1083.7 L1106.2 1061.7 L1106.6 1054.2 L1107.0 1059.6 L1107.4 1052.8 L1107.7 1061.2 L1108.1 1081.7 L1108.5 1091.1 L1109.1 1116.8 L1109.6 1104.0 L1110.3 1130.6 L1110.8 1128.2 L1111.3 1105.2 L1111.8 1102.1 L1112.2 1090.5 L1112.6 1094.0 L1113.0 1084.6 L1113.5 1086.9 L1114.0 1104.0 L1114.5 1107.6 L1115.0 1095.1 L1115.4 1104.1 L1115.8 1089.2 L1116.3 1088.0 L1116.8 1094.5 L1117.3 1094.7 L1117.8 1105.1 L1118.2 1101.7 L1118.7 1111.3 L1119.2 1104.8 L1119.6 1106.4 L1120.0 1100.2 L1120.5 1096.9 L1120.9 1101.2 L1121.3 1098.4 L1121.8 1116.8 L1122.3 1102.9 L1122.8 1124.1 L1123.2 1125.3 L1123.6 1112.4 L1124.1 1111.3 L1124.6 1103.5 L1125.0 1103.4 L1125.5 1095.7 L1126.0 1109.0 L1126.4 1103.9 L1126.8 1114.0 L1127.3 1105.6 L1127.8 1111.8 L1128.3 1102.1 L1128.9 1108.7 L1129.5 1125.3 L1130.1 1132.4 L1130.6 1131.0 L1131.0 1117.5 L1131.4 1115.9 L1131.9 1103.6 L1132.4 1113.0 L1132.9 1102.1 L1133.4 1096.5 L1133.9 1103.6 L1134.4 1098.0 L1134.8 1131.8 L1135.2 1104.4 L1135.6 1138.8 L1136.1 1144.4 L1136.5 1157.8 L1136.9 1164.5 L1137.4 1139.9 L1137.9 1158.4 L1138.4 1137.0 L1138.8 1134.6 L1139.2 1124.0 L1139.7 1120.5 L1140.2 1122.0 L1140.7 1115.3 L1141.2 1116.8 L1141.7 1100.4 L1142.1 1112.2 L1142.6 1093.8 L1143.0 1092.3 L1143.5 1096.2 L1143.9 1094.7 L1144.4 1136.2 L1144.7 1105.0 L1145.2 1143.4 L1145.7 1122.9 L1146.2 1135.0 L1146.7 1114.0 L1147.0 1120.1 L1147.3 1112.5 L1147.6 1118.6 L1148.0 1118.0 L1148.4 1108.7 L1148.9 1106.7 L1149.4 1129.7 L1149.8 1115.1 L1150.3 1135.2 L1151.0 1166.2 L1151.5 1143.3 L1152.2 1175.6 L1152.7 1171.1 L1153.1 1150.3 L1153.6 1144.3 L1154.1 1130.3 L1154.5 1139.9 L1154.9 1128.7 L1155.3 1118.0 L1155.5 1126.2 L1155.9 1114.9 L1156.3 1117.2 L1156.8 1135.9 L1157.3 1139.7 L1157.8 1128.9 L1158.2 1136.6 L1158.6 1126.9 L1159.2 1131.1 L1159.8 1126.0 L1160.4 1129.6 L1161.1 1132.5 L1161.7 1151.2 L1162.3 1156.3 L1162.9 1150.5 L1163.5 1135.9 L1164.1 1129.6 L1164.7 1134.3 L1165.3 1130.2 L1166.0 1133.3 L1166.6 1151.4 L1167.1 1138.6 L1167.8 1154.4 L1168.7 1155.9 L1169.6 1150.2 L1170.5 1151.7 L1170.9 1139.4 L1171.2 1147.4 L1171.5 1135.2 L1171.9 1126.3 L1172.3 1131.0 L1172.8 1123.2 L1173.2 1122.6 L1173.7 1141.7 L1174.2 1142.5 L1174.8 1147.8 L1175.4 1143.0 L1176.1 1147.1 L1176.4 1148.8 L1176.7 1159.6 L1177.0 1162.7 L1177.6 1154.3 L1178.2 1155.5 L1178.8 1148.0 L1179.3 1156.9 L1179.8 1153.8 L1180.3 1160.9 L1180.7 1150.5 L1181.1 1154.7 L1181.6 1145.3 L1182.1 1161.6 L1182.5 1151.2 L1183.0 1166.4 L1183.5 1166.8 L1183.9 1149.8 L1184.3 1149.8 L1185.0 1140.6 L1185.5 1146.4 L1186.2 1138.8 L1186.8 1133.7 L1187.4 1140.3 L1188.0 1135.2 L1188.4 1141.5 L1188.8 1140.8 L1189.3 1146.2 L1189.8 1146.6 L1190.3 1163.9 L1190.8 1166.4 L1191.4 1155.3 L1192.0 1163.9 L1192.6 1155.4 L1193.0 1187.9 L1193.4 1164.8 L1193.9 1192.1 L1194.4 1185.9 L1194.8 1163.4 L1195.3 1155.4 L1195.8 1144.6 L1196.3 1143.4 L1196.8 1133.3 L1197.1 1177.4 L1197.4 1151.0 L1197.7 1182.9 L1198.2 1169.8 L1198.6 1166.8 L1199.0 1153.5 L1199.4 1142.2 L1199.9 1146.5 L1200.3 1135.2 L1200.7 1117.6 L1201.0 1131.0 L1201.4 1111.3 L1201.8 1112.6 L1202.3 1105.0 L1202.7 1105.8 L1203.1 1121.4 L1203.5 1111.9 L1204.0 1127.8 L1204.5 1139.2 L1204.9 1130.9 L1205.5 1140.7 L1205.5 1140.6 L1205.8 1177.5 L1206.1 1148.5 L1206.4 1182.9 L1206.9 1185.1 L1207.4 1198.9 L1207.9 1202.2 L1208.3 1189.4 L1208.8 1186.1 L1209.3 1173.7 L1209.9 1142.0 L1210.4 1160.2 L1211.0 1136.1 L1211.5 1163.3 L1211.9 1145.1 L1212.5 1173.7 L1212.9 1193.9 L1213.3 1180.4 L1213.7 1204.0 L1214.3 1163.8 L1214.7 1191.3 L1215.2 1155.3 L1215.7 1141.2 L1216.0 1150.2 L1216.5 1136.1 L1217.0 1155.8 L1217.4 1140.8 L1218.0 1164.5 L1218.5 1185.6 L1218.9 1172.5 L1219.4 1188.0 L1219.9 1160.9 L1220.3 1175.1 L1220.7 1155.3 L1221.1 1154.7 L1221.6 1145.1 L1222.0 1144.3 L1222.6 1145.8 L1223.2 1141.0 L1223.8 1142.5 L1224.3 1164.6 L1224.8 1170.5 L1225.3 1192.1 L1225.9 1190.6 L1226.5 1193.6 L1227.1 1192.1 L1227.5 1177.2 L1227.8 1174.2 L1228.1 1159.0 L1228.5 1153.8 L1228.9 1160.4 L1229.4 1155.3 L1229.8 1165.5 L1230.3 1164.7 L1230.8 1173.7 L1231.3 1176.1 L1231.8 1190.0 L1232.3 1193.9 L1232.7 1191.6 L1233.1 1177.9 L1233.6 1173.7 L1234.0 1164.3 L1234.4 1170.0 L1234.9 1161.8 L1235.4 1166.4 L1235.8 1188.9 L1236.3 1193.9 L1236.8 1185.4 L1237.2 1191.8 L1237.6 1182.9 L1238.0 1175.1 L1238.3 1181.1 L1238.7 1175.5 L1239.2 1185.0 L1239.6 1179.8 L1240.0 1189.3 L1240.7 1181.9 L1241.2 1186.3 L1241.8 1181.1 L1242.3 1172.0 L1242.7 1177.9 L1243.1 1168.2 L1243.6 1157.9 L1244.1 1163.6 L1244.6 1155.3 L1245.1 1147.5 L1245.4 1153.4 L1245.9 1143.9 L1246.4 1176.2 L1246.8 1158.5 L1247.4 1182.9 L1247.8 1191.3 L1248.2 1187.9 L1248.6 1195.8 L1249.0 1162.2 L1249.4 1185.9 L1249.7 1155.3 L1250.1 1124.1 L1250.3 1143.6 L1250.7 1118.6 L1251.1 1120.1 L1251.5 1110.1 L1252.0 1111.2 L1252.4 1138.6 L1252.8 1121.9 L1253.2 1146.2 L1253.6 1170.3 L1253.8 1155.9 L1254.2 1178.3 L1254.5 1150.9 L1254.9 1167.7 L1255.3 1146.2 L1256.0 1080.0 L1256.5 1081.5 L1257.0 1073.0 L1257.5 1074.5 L1257.9 1076.0 L1258.4 1069.3 L1258.9 1070.8 L1259.4 1082.7 L1259.8 1076.2 L1260.2 1085.5 L1260.7 1067.1 L1261.1 1078.4 L1261.5 1063.5 L1261.9 1048.9 L1262.2 1058.2 L1262.6 1045.1 L1262.9 1035.1 L1263.2 1037.0 L1263.5 1027.7 L1264.0 1046.4 L1264.4 1033.0 L1264.8 1055.2 L1265.3 1038.5 L1265.8 1035.4 L1266.3 1020.3 L1267.0 1011.7 L1267.7 1019.0 L1268.5 1011.7 L1268.8 1027.6 L1269.1 1017.6 L1269.4 1032.3 L1269.7 1057.0 L1270.0 1037.8 L1270.3 1063.5 L1270.6 1088.4 L1270.9 1068.8 L1271.2 1094.7 L1271.8 1096.1 L1272.5 1090.1 L1273.1 1090.1 L1273.4 1110.8 L1273.7 1099.7 L1274.0 1116.8 L1274.4 1117.8 L1274.8 1134.2 L1275.3 1137.0 L1275.6 1136.6 L1276.0 1150.7 L1276.4 1151.7 L1276.9 1150.2 L1277.5 1156.3 L1278.0 1155.3 L1278.3 1154.4 L1278.6 1161.0 L1279.0 1160.9 L1279.3 1168.4 L1279.7 1165.0 L1280.1 1171.9 L1280.5 1154.6 L1280.9 1168.0 L1281.3 1152.6 L1281.8 1162.5 L1282.2 1155.4 L1282.6 1164.5 L1283.0 1178.8 L1283.3 1170.3 L1283.7 1181.1 L1284.2 1191.8 L1284.6 1196.0 L1285.0 1205.9 L1285.5 1179.0 L1285.9 1193.4 L1286.3 1173.7 L1286.9 1169.5 L1287.5 1158.3 L1288.1 1152.6 L1288.5 1162.7 L1288.9 1154.7 L1289.2 1164.5 L1289.5 1187.1 L1289.8 1193.9 L1290.2 1215.0 L1290.6 1213.1 L1291.0 1204.5 L1291.4 1201.3 L1291.8 1192.6 L1292.0 1196.8 L1292.4 1188.4 L1292.8 1189.9 L1293.2 1179.6 L1293.7 1181.1 L1294.0 1205.0 L1294.4 1210.5 L1294.8 1233.4 L1295.2 1230.6 L1295.6 1211.3 L1296.0 1204.9 L1296.6 1211.3 L1297.0 1207.5 L1297.5 1214.1 L1298.1 1214.9 L1298.6 1232.2 L1299.2 1236.2 L1299.6 1231.3 L1300.1 1209.7 L1300.6 1204.0 L1301.1 1215.1 L1301.6 1210.2 L1302.1 1219.6 L1302.5 1218.1 L1303.0 1229.5 L1303.4 1228.8 L1303.8 1244.2 L1304.2 1232.7 L1304.7 1250.0 L1305.2 1243.5 L1305.6 1226.9 L1306.1 1219.6 L1306.6 1195.0 L1307.0 1207.3 L1307.4 1187.5 L1307.9 1189.0 L1308.4 1185.1 L1308.9 1186.6 L1309.4 1204.8 L1309.7 1196.0 L1310.2 1210.5 L1310.7 1224.3 L1311.1 1216.9 L1311.7 1230.7 L1312.2 1198.3 L1312.6 1218.3 L1313.1 1185.7 L1313.6 1184.2 L1314.0 1193.6 L1314.4 1192.1 L1314.9 1228.4 L1315.4 1207.8 L1315.9 1238.0 L1316.3 1225.6 L1316.7 1230.2 L1317.2 1219.6 L1317.7 1210.3 L1318.1 1215.6 L1318.6 1208.6 L1319.2 1210.1 L1319.7 1204.4 L1320.3 1205.9 L1320.8 1224.2 L1321.2 1214.9 L1321.8 1230.7 L1322.2 1201.2 L1322.6 1219.5 L1323.0 1196.7 L1323.5 1198.2 L1324.0 1194.3 L1324.5 1195.8 L1325.0 1208.6 L1325.5 1236.1 L1326.0 1250.0 L1326.5 1236.7 L1327.1 1231.6 L1327.6 1219.6 L1328.4 1221.1 L1329.2 1210.2 L1330.0 1210.5 L1330.5 1197.5 L1330.9 1203.0 L1331.3 1193.0 L1331.8 1207.4 L1332.3 1212.2 L1332.8 1225.2 L1333.4 1208.2 L1334.0 1219.4 L1334.6 1205.9 L1335.2 1208.3 L1335.8 1204.4 L1336.5 1206.8 L1337.2 1214.9 L1337.9 1236.5 L1338.7 1245.4 L1339.1 1246.9 L1339.6 1242.0 L1340.1 1243.5 L1340.6 1242.0 L1341.0 1255.6 L1341.4 1254.5 L1341.9 1247.6 L1342.4 1254.0 L1342.9 1247.2 L1343.3 1257.9 L1343.7 1249.6 L1344.2 1261.0 L1344.7 1244.5 L1345.1 1256.5 L1345.6 1236.2 L1346.1 1228.8 L1346.5 1232.3 L1346.9 1225.2 L1347.4 1223.7 L1347.9 1236.7 L1348.4 1237.1 L1349.0 1222.7 L1349.6 1232.0 L1350.2 1220.6 L1350.7 1230.8 L1351.1 1230.6 L1351.5 1240.8 L1351.9 1259.9 L1352.2 1248.3 L1352.6 1265.6 L1353.0 1274.7 L1353.5 1274.1 L1353.9 1283.0 L1354.4 1261.6 L1354.9 1273.9 L1355.4 1256.4 L1355.8 1250.6 L1356.2 1231.6 L1356.7 1225.2 L1357.1 1226.7 L1357.5 1220.0 L1358.0 1220.6 L1358.4 1231.2 L1358.9 1226.1 L1359.4 1234.3 L1359.9 1253.7 L1360.4 1242.1 L1360.9 1261.9 L1361.3 1268.9 L1361.7 1264.3 L1362.2 1270.2 L1362.6 1232.8 L1363.0 1256.6 L1363.5 1223.3 L1363.9 1232.5 L1364.4 1227.2 L1364.9 1234.3 L1365.4 1245.1 L1365.8 1237.0 L1366.2 1247.2 L1367.0 1247.6 L1367.8 1236.8 L1368.6 1236.2 L1369.2 1237.7 L1369.8 1231.0 L1370.4 1232.5 L1370.9 1235.8 L1371.4 1231.0 L1371.9 1234.3 L1372.3 1224.4 L1372.8 1227.8 L1373.2 1217.8 L1373.7 1220.1 L1374.2 1231.1 L1374.7 1234.3 L1375.4 1235.8 L1376.1 1227.3 L1376.9 1228.8 L1377.5 1228.0 L1378.1 1246.2 L1378.7 1247.2 L1379.2 1259.4 L1379.7 1251.0 L1380.2 1261.9 L1380.7 1271.5 L1381.3 1270.6 L1381.8 1280.3 L1382.3 1249.3 L1382.8 1264.9 L1383.3 1236.2 L1383.9 1248.2 L1384.5 1238.4 L1385.1 1250.9 L1385.6 1261.9 L1386.0 1255.0 L1386.4 1262.8 L1386.9 1262.2 L1387.4 1248.1 L1387.9 1247.2 L1388.5 1243.5 L1389.1 1230.8 L1389.7 1225.2 L1390.1 1226.7 L1390.5 1219.9 L1390.8 1220.6 L1391.2 1220.8 L1391.6 1204.3 L1391.9 1204.0 L1392.5 1224.6 L1392.9 1212.0 L1393.4 1227.0 L1393.9 1244.8 L1394.2 1233.9 L1394.7 1247.2 L1395.1 1255.2 L1395.4 1254.9 L1395.8 1261.9 L1396.2 1237.8 L1396.6 1250.3 L1397.1 1230.7 L1397.6 1244.2 L1398.0 1235.6 L1398.6 1247.2 L1399.0 1266.2 L1399.4 1256.0 L1399.8 1271.1 L1400.3 1285.5 L1400.7 1275.0 L1401.1 1287.6 L1401.6 1269.3 L1402.1 1269.5 L1402.6 1252.7 L1403.0 1230.8 L1403.4 1244.7 L1403.9 1227.9 L1404.4 1232.8 L1404.8 1246.1 L1405.3 1252.7 L1405.9 1241.3 L1406.3 1249.2 L1406.8 1238.0 L1407.5 1243.2 L1408.3 1237.8 L1409.0 1241.7 L1409.5 1253.0 L1409.9 1245.9 L1410.3 1254.5 L1410.8 1253.0 L1411.3 1267.1 L1411.8 1265.6 L1412.4 1241.9 L1413.0 1261.0 L1413.6 1236.2 L1414.2 1243.8 L1414.8 1235.8 L1415.5 1242.6 L1415.9 1240.5 L1416.3 1231.4 L1416.7 1227.9 L1417.3 1241.8 L1417.7 1234.0 L1418.2 1243.5 L1418.6 1242.0 L1419.1 1247.5 L1419.5 1246.3 L1420.0 1262.4 L1420.5 1251.6 L1421.0 1265.6 L1421.4 1250.6 L1421.8 1260.0 L1422.3 1245.4 L1422.7 1232.0 L1423.2 1231.1 L1423.7 1217.8 L1424.1 1216.3 L1424.6 1223.7 L1425.0 1223.3 L1425.6 1239.1 L1426.2 1227.0 L1426.8 1245.4 L1427.4 1246.9 L1428.1 1238.3 L1428.7 1239.8 L1429.2 1248.2 L1429.7 1245.7 L1430.2 1253.6 L1430.8 1254.3 L1431.4 1240.1 L1432.0 1239.8 L1432.6 1248.7 L1433.2 1239.9 L1433.8 1247.2 L1434.3 1236.1 L1434.7 1241.4 L1435.1 1232.5 L1435.6 1250.3 L1436.1 1238.5 L1436.6 1256.4 L1437.1 1278.7 L1437.5 1260.1 L1438.0 1281.2 L1438.5 1281.9 L1438.9 1262.4 L1439.3 1261.9 L1439.8 1246.3 L1440.2 1251.7 L1440.6 1237.1 L1441.0 1260.5 L1441.4 1241.7 L1441.8 1266.2 L1442.3 1279.8 L1442.8 1280.5 L1443.3 1293.7 L1443.7 1296.1 L1444.1 1292.2 L1444.6 1294.6 L1444.9 1213.9 L1445.2 1259.6 L1445.5 1198.2 L1446.0 1191.1 L1446.4 1194.7 L1446.9 1189.4 L1447.4 1191.4 L1447.8 1187.9 L1448.2 1189.9 L1448.8 1229.4 L1449.4 1238.3 L1450.0 1228.3 L1450.6 1236.8 L1450.9 1245.4 L1451.2 1266.2 L1451.5 1275.3 L1452.0 1285.8 L1452.4 1285.1 L1452.8 1295.5 L1453.3 1264.8 L1453.8 1284.3 L1454.3 1257.0 L1454.7 1264.0 L1455.1 1263.3 L1455.6 1269.8 L1456.1 1251.8 L1456.5 1265.4 L1457.0 1248.7 L1457.5 1269.9 L1457.9 1255.3 L1458.3 1273.5 L1458.8 1260.2 L1459.3 1264.6 L1459.8 1253.3 L1460.2 1254.8 L1460.6 1248.1 L1461.1 1249.6 L1461.6 1232.6 L1462.0 1245.4 L1462.6 1225.7 L1463.1 1267.9 L1463.5 1239.6 L1464.0 1275.3 L1464.6 1285.8 L1465.1 1279.2 L1465.7 1291.0 L1466.2 1283.3 L1466.6 1258.8 L1467.1 1249.6 L1467.6 1258.7 L1468.0 1276.2 L1468.4 1287.3 L1468.9 1261.0 L1469.4 1276.6 L1469.9 1253.3 L1470.3 1263.9 L1470.8 1261.0 L1471.2 1269.8 L1471.7 1265.1 L1472.2 1254.0 L1472.7 1247.8 L1473.1 1223.4 L1473.5 1241.4 L1473.9 1218.4 L1474.5 1224.9 L1474.9 1221.7 L1475.4 1227.6 L1475.9 1284.1 L1476.3 1253.0 L1476.7 1297.4 L1477.1 1230.7 L1477.4 1266.7 L1477.8 1209.2 L1478.2 1206.8 L1478.7 1210.7 L1479.1 1208.3 L1479.4 1258.6 L1479.7 1234.1 L1480.0 1284.5 L1480.3 1300.1 L1480.6 1303.2 L1480.9 1317.6 L1481.4 1266.5 L1481.9 1293.1 L1482.4 1253.3 L1482.8 1264.8 L1483.2 1257.5 L1483.7 1266.2 L1484.1 1258.7 L1484.5 1264.0 L1485.0 1257.0 L1485.5 1258.5 L1485.9 1248.1 L1486.4 1249.6 L1487.1 1232.6 L1487.6 1243.6 L1488.3 1230.3 L1488.7 1245.5 L1489.1 1251.6 L1489.6 1267.1 L1490.0 1263.6 L1490.5 1248.0 L1491.0 1242.3 L1491.6 1238.9 L1492.2 1243.8 L1492.9 1240.4 L1493.2 1243.1 L1493.5 1261.5 L1493.8 1266.2 L1494.2 1290.3 L1494.6 1274.6 L1495.1 1295.5 L1495.6 1280.1 L1496.0 1280.8 L1496.5 1268.0 L1497.0 1263.7 L1497.4 1269.1 L1497.8 1265.2 L1498.2 1296.8 L1498.5 1276.2 L1498.9 1302.9 L1499.4 1311.2 L1499.8 1306.2 L1500.2 1313.0 L1500.7 1279.5 L1501.2 1296.7 L1501.7 1262.5 L1502.1 1264.0 L1502.5 1260.1 L1503.0 1261.6 L1503.4 1272.1 L1503.8 1274.2 L1504.3 1283.6 L1504.7 1276.4 L1505.2 1259.8 L1505.7 1251.5 L1506.2 1254.8 L1506.7 1250.0 L1507.2 1253.3 L1507.6 1244.3 L1508.0 1251.4 L1508.5 1241.4 L1509.0 1274.0 L1509.4 1254.6 L1510.0 1279.0 L1510.5 1288.6 L1511.0 1307.8 L1511.6 1319.4 L1512.1 1264.2 L1512.6 1293.4 L1513.1 1251.5 L1513.5 1250.0 L1513.9 1258.5 L1514.4 1257.0 L1514.8 1264.7 L1515.3 1282.4 L1515.8 1291.0 L1516.3 1264.6 L1516.7 1275.6 L1517.1 1251.5 L1517.7 1250.6 L1518.3 1257.5 L1519.0 1257.0 L1519.3 1298.0 L1519.7 1274.4 L1520.1 1306.6 L1520.6 1308.1 L1521.1 1304.2 L1521.7 1305.7 L1522.2 1269.9 L1522.7 1286.9 L1523.2 1254.2 L1523.6 1268.7 L1524.0 1262.0 L1524.5 1275.3 L1525.0 1281.3 L1525.4 1302.0 L1525.9 1308.4 L1526.4 1301.0 L1526.9 1276.6 L1527.4 1266.2 L1527.8 1255.1 L1528.3 1261.2 L1528.7 1251.5 L1529.0 1249.0 L1529.3 1253.0 L1529.6 1250.5 L1530.1 1260.8 L1530.6 1253.1 L1531.1 1265.2 L1531.5 1281.4 L1531.9 1273.5 L1532.4 1288.2 L1533.0 1291.5 L1533.6 1286.7 L1534.2 1290.0 L1534.7 1307.4 L1535.2 1293.4 L1535.7 1311.2 L1536.1 1295.4 L1536.5 1291.2 L1537.0 1275.3 L1537.4 1256.0 L1537.8 1252.6 L1538.2 1234.9 L1538.9 1233.4 L1539.5 1236.4 L1540.1 1234.9 L1540.4 1255.7 L1540.8 1254.3 L1541.2 1275.3 L1541.6 1297.5 L1542.0 1282.5 L1542.5 1307.5 L1542.9 1292.1 L1543.3 1293.1 L1543.8 1279.0 L1544.4 1277.9 L1545.1 1264.9 L1545.8 1261.6 L1546.3 1264.8 L1546.9 1277.4 L1547.4 1280.9 L1547.9 1282.4 L1548.4 1271.0 L1548.9 1271.7 L1549.5 1257.7 L1550.1 1265.5 L1550.7 1255.1 L1551.3 1256.6 L1552.0 1252.7 L1552.6 1254.2 L1552.9 1257.8 L1553.2 1274.9 L1553.5 1280.9 L1553.9 1304.1 L1554.3 1290.3 L1554.8 1308.4 L1555.3 1306.5 L1555.7 1291.1 L1556.2 1286.4 L1556.7 1298.2 L1557.2 1291.1 L1557.7 1300.1 L1558.4 1294.0 L1559.2 1298.6 L1559.9 1293.7 L1560.6 1280.6 L1561.1 1287.5 L1561.8 1275.3 L1562.2 1276.8 L1562.6 1270.2 L1563.0 1271.7 L1563.5 1274.8 L1564.0 1291.7 L1564.5 1295.5 L1564.9 1284.1 L1565.4 1284.7 L1565.8 1275.3 L1566.3 1266.2 L1566.8 1269.5 L1567.3 1261.6 L1567.9 1257.2 L1568.5 1260.5 L1569.1 1257.0 L1569.6 1250.1 L1570.1 1251.8 L1570.6 1245.0 L1571.0 1235.3 L1571.4 1238.4 L1571.9 1230.3 L1572.3 1246.6 L1572.7 1234.7 L1573.2 1253.3 L1573.6 1256.6 L1574.1 1251.8 L1574.6 1255.1 L1575.1 1233.5 L1575.5 1247.5 L1575.9 1227.6 L1576.2 1210.9 L1576.5 1221.6 L1576.8 1203.7 L1577.2 1215.0 L1577.5 1207.2 L1577.9 1220.2 L1578.2 1222.5 L1578.5 1237.3 L1578.8 1242.3 L1579.3 1213.1 L1579.7 1197.9 L1580.1 1168.8 L1580.8 1151.9 L1581.3 1165.0 L1582.0 1148.6 L1582.5 1159.5 L1582.9 1152.7 L1583.4 1165.1 L1583.9 1159.3 L1584.3 1163.6 L1584.7 1159.6 L1585.1 1158.1 L1585.6 1166.6 L1586.0 1165.1 L1586.4 1148.5 L1586.7 1161.2 L1587.1 1142.5 L1587.5 1141.0 L1588.0 1144.6 L1588.4 1143.1 L1588.9 1192.7 L1589.3 1247.5 L1589.5 1209.7 L1589.9 1257.0 L1590.3 1258.5 L1590.7 1254.6 L1591.2 1256.1 L1591.7 1236.8 L1592.3 1227.4 L1592.8 1234.7 L1593.4 1225.7 L1593.9 1239.7 L1594.3 1232.8 L1594.8 1245.9 L1595.3 1240.0 L1595.7 1244.1 L1596.1 1238.6 L1596.4 1227.3 L1596.7 1224.2 L1597.0 1212.9 L1597.6 1214.4 L1598.2 1210.5 L1598.9 1212.0 L1599.4 1238.6 L1599.7 1245.0 L1600.0 1268.2 L1600.3 1275.3 L1600.8 1281.5 L1601.2 1277.4 L1601.6 1283.6 L1601.9 1267.5 L1602.2 1272.7 L1602.5 1257.0 L1602.9 1243.0 L1603.3 1252.4 L1603.6 1240.4 L1604.1 1254.0 L1604.5 1244.2 L1604.9 1257.0 L1605.4 1249.7 L1605.8 1255.6 L1606.2 1249.6 L1606.7 1261.5 L1607.2 1254.9 L1607.7 1266.2 L1608.0 1269.5 L1608.3 1287.4 L1608.6 1293.7 L1609.1 1284.2 L1609.6 1291.7 L1610.1 1284.5 L1610.6 1282.3 L1611.2 1265.2 L1611.7 1261.6 L1612.1 1262.8 L1612.5 1282.8 L1612.8 1286.4 L1613.3 1295.2 L1613.7 1285.3 L1614.1 1293.7 L1614.6 1303.0 L1615.1 1298.0 L1615.6 1307.5 L1616.0 1313.2 L1616.4 1306.8 L1616.9 1312.1 L1617.3 1283.7 L1617.7 1306.4 L1618.2 1275.3 L1618.7 1284.7 L1619.1 1278.1 L1619.6 1286.4 L1620.1 1293.6 L1620.6 1287.5 L1621.1 1293.7 L1621.5 1297.0 L1621.9 1292.2 L1622.4 1295.5 L1622.8 1319.0 L1623.2 1303.1 L1623.7 1330.5 L1624.2 1329.0 L1624.6 1338.5 L1625.1 1338.7 L1625.6 1327.2 L1626.0 1323.0 L1626.4 1312.1 L1627.1 1295.4 L1627.6 1307.4 L1628.3 1287.8 L1628.8 1308.5 L1629.2 1296.8 L1629.7 1312.1 L1630.2 1310.7 L1630.6 1297.2 L1631.0 1295.5 L1631.7 1312.0 L1632.2 1299.2 L1632.9 1313.9 L1633.3 1310.6 L1633.8 1314.4 L1634.3 1312.1 L1634.6 1286.0 L1634.9 1304.3 L1635.2 1282.7 L1635.9 1284.2 L1636.5 1277.5 L1637.1 1279.0 L1637.4 1291.9 L1637.7 1288.8 L1638.0 1299.2 L1638.4 1313.6 L1638.8 1318.4 L1639.3 1331.4 L1639.8 1332.8 L1640.3 1321.5 L1640.8 1321.3 L1641.1 1317.8 L1641.4 1297.6 L1641.7 1293.7 L1642.0 1288.3 L1642.3 1275.3 L1642.6 1268.9 L1643.0 1280.6 L1643.4 1299.4 L1643.9 1312.1 L1644.4 1290.5 L1644.8 1302.5 L1645.3 1286.4 L1646.1 1283.9 L1646.9 1287.9 L1647.7 1285.4 L1648.3 1304.0 L1648.8 1296.4 L1649.4 1313.9 L1649.9 1310.6 L1650.4 1315.4 L1650.9 1312.1 L1651.5 1291.6 L1652.1 1301.9 L1652.7 1286.4 L1653.3 1277.8 L1653.9 1279.3 L1654.5 1271.7 L1655.3 1273.2 L1656.0 1270.2 L1656.7 1271.7 L1657.1 1289.3 L1657.5 1295.5 L1657.8 1312.1 L1658.1 1312.6 L1658.4 1327.5 L1658.8 1328.6 L1659.3 1304.7 L1659.8 1318.9 L1660.4 1293.7 L1660.8 1284.3 L1661.1 1284.4 L1661.5 1275.3 L1661.9 1276.8 L1662.4 1263.6 L1662.8 1264.9 L1663.1 1288.6 L1663.4 1271.2 L1663.7 1293.7 L1664.1 1303.1 L1664.6 1298.1 L1665.0 1307.5 L1665.5 1287.1 L1666.0 1301.5 L1666.5 1282.7 L1666.9 1274.1 L1667.3 1280.0 L1667.8 1272.6 L1668.3 1307.4 L1668.7 1284.7 L1669.2 1312.1 L1669.7 1298.3 L1670.2 1308.6 L1670.7 1293.7 L1671.1 1288.2 L1671.5 1275.0 L1672.0 1268.9 L1672.4 1282.7 L1672.8 1274.5 L1673.3 1286.4 L1673.8 1287.8 L1674.2 1278.2 L1674.7 1279.0 L1675.3 1277.5 L1676.0 1280.5 L1676.6 1279.0 L1677.0 1289.6 L1677.4 1292.9 L1677.9 1302.9 L1678.2 1305.7 L1678.6 1319.8 L1679.0 1323.1 L1679.5 1322.4 L1680.1 1313.1 L1680.6 1312.1 L1681.1 1301.3 L1681.6 1310.7 L1682.1 1301.1 L1682.6 1306.0 L1683.1 1327.3 L1683.6 1333.2 L1684.0 1322.6 L1684.4 1329.2 L1684.8 1321.3 L1685.5 1313.0 L1686.0 1317.4 L1686.7 1310.2 L1687.3 1321.8 L1687.9 1316.3 L1688.5 1326.8 L1689.2 1313.9 L1689.7 1321.5 L1690.4 1310.2 L1691.1 1309.5 L1691.8 1299.7 L1692.6 1298.3 L1692.9 1300.0 L1693.3 1310.0 L1693.7 1312.1 L1694.1 1325.0 L1694.5 1324.0 L1695.0 1335.0 L1695.4 1319.5 L1695.9 1320.6 L1696.4 1307.5 L1697.1 1306.0 L1697.9 1311.7 L1698.6 1310.2 L1699.1 1320.4 L1699.6 1312.3 L1700.1 1322.2 L1700.9 1304.7 L1701.5 1315.3 L1702.3 1301.1 L1702.7 1300.8 L1703.1 1311.8 L1703.6 1312.1 L1704.1 1319.2 L1704.6 1341.1 L1705.1 1348.8 L1705.7 1335.2 L1706.2 1343.5 L1706.9 1330.5 L1707.2 1306.9 L1707.5 1291.7 L1707.8 1268.0 L1708.3 1256.6 L1708.6 1264.9 L1709.1 1254.8 L1709.6 1265.4 L1710.1 1257.2 L1710.6 1268.0 L1710.9 1294.9 L1711.2 1278.6 L1711.5 1308.4 L1712.2 1301.4 L1712.9 1309.8 L1713.7 1302.9 L1714.2 1324.8 L1714.6 1309.3 L1715.2 1331.4 L1715.8 1317.7 L1716.4 1323.1 L1717.0 1312.1 L1717.6 1311.6 L1718.2 1320.3 L1718.8 1321.3 L1719.5 1313.4 L1720.0 1319.3 L1720.7 1312.1 L1721.0 1302.3 L1721.3 1309.7 L1721.6 1301.1 L1722.1 1319.7 L1722.5 1307.9 L1723.1 1328.6 L1723.7 1326.2 L1724.3 1330.1 L1724.9 1327.7 L1725.3 1328.5 L1725.7 1318.8 L1726.2 1317.6 L1726.8 1318.9 L1727.4 1310.8 L1728.0 1312.1 L1728.5 1301.6 L1729.0 1306.1 L1729.5 1297.4 L1729.9 1267.0 L1730.3 1288.5 L1730.8 1257.0 L1731.3 1253.6 L1731.7 1258.5 L1732.2 1255.1 L1732.7 1290.0 L1733.1 1263.5 L1733.5 1297.4 L1733.9 1337.3 L1734.1 1313.8 L1734.4 1347.9 L1735.0 1332.1 L1735.6 1334.7 L1736.3 1318.8 L1736.7 1304.0 L1737.1 1305.4 L1737.6 1292.2 L1738.1 1301.3 L1738.6 1292.1 L1739.1 1299.8 L1739.6 1310.2 L1740.0 1304.6 L1740.4 1315.0 L1741.1 1313.9 L1741.7 1320.5 L1742.3 1319.8 L1742.8 1312.9 L1743.2 1316.3 L1743.7 1309.3 L1744.0 1293.8 L1744.3 1289.6 L1744.6 1275.2 L1745.0 1271.8 L1745.4 1276.7 L1745.8 1273.3 L1746.2 1286.5 L1746.6 1314.1 L1747.1 1328.3 L1747.6 1321.5 L1747.9 1326.0 L1748.4 1318.8 L1748.8 1277.1 L1749.2 1299.1 L1749.6 1267.6 L1750.0 1271.0 L1750.4 1266.1 L1750.9 1269.5 L1751.4 1279.7 L1751.9 1281.4 L1752.4 1290.3 L1752.9 1299.7 L1753.3 1294.3 L1753.7 1303.6 L1754.4 1302.1 L1755.0 1305.1 L1755.6 1303.6 L1756.0 1290.4 L1756.2 1299.3 L1756.6 1288.4 L1757.0 1270.4 L1757.4 1280.9 L1757.9 1263.8 L1758.3 1261.3 L1758.7 1265.3 L1759.0 1262.8 L1759.5 1283.1 L1759.9 1273.0 L1760.4 1290.3 L1760.8 1282.1 L1761.2 1286.7 L1761.7 1280.9 L1762.0 1243.2 L1762.3 1262.8 L1762.7 1233.4 L1763.2 1222.6 L1763.7 1231.4 L1764.2 1222.0 L1764.6 1221.8 L1765.0 1239.9 L1765.5 1241.9 L1765.9 1221.8 L1766.3 1219.0 L1766.6 1199.2 L1767.1 1179.4 L1767.5 1192.4 L1768.0 1176.4 L1768.4 1183.9 L1768.8 1178.8 L1769.3 1184.0 L1769.8 1175.5 L1770.3 1182.1 L1770.8 1174.5 L1771.3 1161.7 L1771.7 1169.1 L1772.1 1159.4 L1772.5 1147.5 L1772.8 1151.9 L1773.1 1142.3 L1773.5 1130.9 L1773.8 1128.4 L1774.2 1118.5 L1774.7 1126.0 L1775.1 1122.5 L1775.6 1129.0 L1776.0 1146.1 L1776.4 1137.0 L1776.9 1149.9 L1777.4 1151.4 L1777.9 1136.8 L1778.4 1135.6 L1778.8 1134.1 L1779.3 1138.1 L1779.7 1136.6 L1780.1 1133.2 L1780.5 1138.0 L1780.9 1134.7 L1781.3 1179.0 L1781.7 1144.7 L1782.2 1191.6 L1782.6 1190.1 L1783.1 1203.5 L1783.5 1204.0 L1783.9 1160.8 L1784.2 1194.9 L1784.5 1150.8 L1785.0 1149.3 L1785.5 1153.3 L1786.0 1151.8 L1786.3 1165.5 L1786.6 1164.2 L1787.0 1176.4 L1787.4 1208.2 L1787.8 1182.4 L1788.3 1214.4 L1788.8 1275.2 L1789.3 1280.5 L1789.7 1273.7 L1790.2 1279.0 L1790.5 1277.3 L1790.8 1257.2 L1791.1 1255.2 L1791.6 1257.7 L1792.1 1253.7 L1792.6 1256.2 L1793.1 1278.4 L1793.5 1267.8 L1794.0 1287.5 L1794.5 1294.5 L1795.0 1293.7 L1795.5 1299.8 L1795.8 1295.6 L1796.1 1281.9 L1796.4 1277.1 L1796.9 1270.7 L1797.3 1275.4 L1797.8 1267.6 L1798.3 1299.8 L1798.8 1317.2 L1799.2 1319.6 L1799.7 1335.9 L1800.0 1334.4 L1800.4 1343.1 L1800.8 1341.6 L1801.2 1327.0 L1801.7 1331.3 L1802.1 1316.9 L1802.5 1303.9 L1802.8 1298.7 L1803.1 1285.6 L1803.6 1317.8 L1804.0 1292.8 L1804.4 1322.6 L1804.9 1311.0 L1805.4 1311.8 L1805.9 1301.7 L1806.6 1308.5 L1807.2 1303.8 L1807.8 1309.3 L1808.2 1325.1 L1808.4 1318.1 L1808.8 1332.1 L1809.3 1326.6 L1809.8 1308.3 L1810.3 1300.8 L1810.7 1299.3 L1811.2 1303.2 L1811.6 1301.7 L1812.1 1320.0 L1812.5 1310.5 L1813.0 1326.4 L1813.5 1352.0 L1814.0 1340.0 L1814.4 1349.1 L1814.9 1337.8 L1815.4 1328.3 L1815.8 1335.1 L1816.4 1323.6 L1816.8 1360.4 L1817.2 1334.5 L1817.7 1366.3 L1818.4 1377.0 L1818.9 1369.2 L1819.6 1382.4 L1820.1 1363.1 L1820.6 1377.9 L1821.1 1354.9 L1821.6 1354.9 L1822.0 1343.8 L1822.4 1343.5 L1823.0 1332.3 L1823.4 1339.4 L1824.0 1330.2 L1824.5 1335.4 L1825.0 1350.8 L1825.5 1356.8 L1825.8 1374.2 L1826.1 1366.7 L1826.4 1382.4 L1826.7 1368.4 L1827.1 1370.2 L1827.4 1356.8 L1827.8 1343.9 L1828.3 1347.8 L1828.7 1336.9 L1829.2 1339.8 L1829.6 1351.2 L1830.0 1354.9 L1830.7 1349.6 L1831.3 1356.4 L1831.9 1351.1 L1832.6 1349.9 L1833.2 1333.5 L1833.8 1329.3 L1834.3 1327.8 L1834.8 1338.4 L1835.4 1337.8 L1835.8 1350.7 L1836.2 1343.0 L1836.7 1356.8 L1837.1 1370.9 L1837.4 1367.4 L1837.8 1381.5 L1838.3 1396.4 L1838.7 1385.1 L1839.2 1398.5 L1839.5 1379.8 L1839.8 1394.1 L1840.1 1375.8 L1840.4 1372.6 L1840.7 1351.1 L1841.1 1345.4 L1841.5 1349.6 L1841.9 1360.6 L1842.4 1366.3 L1842.9 1359.3 L1843.4 1364.1 L1843.9 1356.8 L1844.3 1344.4 L1844.8 1351.9 L1845.2 1339.7 L1845.8 1358.3 L1846.2 1346.5 L1846.7 1362.5 L1847.4 1350.9 L1848.0 1348.7 L1848.6 1337.8 L1849.0 1329.9 L1849.3 1314.2 L1849.6 1305.5 L1850.1 1300.7 L1850.6 1305.4 L1851.1 1301.7 L1851.4 1333.6 L1851.7 1315.6 L1852.1 1337.8 L1852.5 1352.7 L1852.9 1341.5 L1853.4 1356.8 L1853.9 1347.3 L1854.3 1354.0 L1854.7 1345.4 L1855.3 1360.9 L1855.7 1352.4 L1856.2 1364.4 L1856.7 1358.9 L1857.1 1343.6 L1857.6 1337.8 L1858.1 1323.9 L1858.6 1331.5 L1859.1 1320.7 L1859.4 1329.9 L1859.7 1358.2 L1860.0 1369.1 L1860.5 1351.8 L1860.9 1365.9 L1861.4 1349.2 L1861.9 1340.1 L1862.4 1348.5 L1862.9 1341.6 L1863.3 1353.3 L1863.7 1344.3 L1864.2 1356.8 L1864.6 1351.7 L1865.0 1334.0 L1865.4 1326.4 L1865.8 1334.3 L1866.2 1328.8 L1866.7 1337.8 L1867.2 1355.9 L1867.7 1342.2 L1868.2 1364.4 L1868.7 1373.1 L1869.1 1368.8 L1869.5 1375.8 L1870.0 1376.7 L1870.5 1385.4 L1871.0 1387.2 L1871.5 1373.4 L1871.9 1380.3 L1872.4 1370.1 L1873.0 1359.4 L1873.6 1361.8 L1874.3 1351.1 L1874.8 1371.3 L1875.3 1356.6 L1875.8 1379.6 L1876.2 1369.7 L1876.7 1369.7 L1877.1 1360.6 L1877.7 1359.1 L1878.4 1368.7 L1879.0 1367.2 L1879.6 1359.6 L1880.0 1365.1 L1880.5 1356.8 L1881.2 1355.3 L1881.8 1365.5 L1882.4 1364.4 L1883.0 1349.5 L1883.5 1358.6 L1884.1 1343.5 L1884.6 1342.9 L1885.1 1360.8 L1885.7 1361.5 L1886.1 1354.8 L1886.5 1355.7 L1887.0 1349.2 L1887.4 1347.7 L1887.7 1338.0 L1888.1 1335.0 L1888.6 1333.5 L1889.0 1337.4 L1889.5 1335.9 L1890.1 1355.9 L1890.7 1340.4 L1891.4 1358.7 L1891.9 1348.1 L1892.3 1353.7 L1892.9 1345.4 L1893.3 1362.8 L1893.7 1349.3 L1894.2 1370.1 L1894.7 1358.4 L1895.2 1366.7 L1895.7 1353.0 L1896.2 1347.7 L1896.6 1354.3 L1897.1 1349.2 L1897.5 1359.3 L1897.9 1362.6 L1898.4 1372.0 L1898.8 1360.2 L1899.1 1366.1 L1899.5 1356.8 L1900.0 1334.6 L1900.4 1349.3 L1900.9 1332.1 L1901.3 1345.1 L1901.7 1335.2 L1902.2 1347.3 L1902.7 1350.0 L1903.2 1367.1 L1903.7 1370.1 L1904.3 1363.0 L1905.0 1363.1 L1905.6 1356.8 L1906.2 1356.3 L1906.8 1348.2 L1907.5 1347.3 L1908.2 1344.8 L1909.0 1348.8 L1909.8 1346.3 L1910.2 1358.7 L1910.5 1351.0 L1910.9 1362.5 L1911.4 1363.7 L1911.8 1373.7 L1912.2 1375.8 L1912.8 1364.3 L1913.2 1370.0 L1913.8 1360.6 L1914.4 1361.9 L1915.0 1353.8 L1915.7 1354.9 L1916.0 1336.1 L1916.3 1349.8 L1916.6 1328.3 L1916.9 1329.0 L1917.2 1317.2 L1917.6 1316.0 L1918.0 1322.7 L1918.4 1340.2 L1918.9 1347.3 L1919.4 1370.0 L1919.9 1353.7 L1920.4 1372.9 L1920.9 1342.1 L1921.3 1366.7 L1921.7 1337.8 L1922.1 1331.6 L1922.3 1335.9 L1922.7 1329.3 L1923.1 1342.1 L1923.6 1337.5 L1924.0 1347.3 L1924.4 1363.8 L1924.8 1354.5 L1925.2 1370.1 L1925.6 1368.0 L1926.0 1351.7 L1926.5 1347.3 L1926.9 1346.8 L1927.4 1330.2 L1927.8 1329.3 L1928.2 1334.9 L1928.6 1350.2 L1928.9 1356.8 L1929.4 1366.7 L1929.8 1361.6 L1930.3 1370.1 L1930.7 1370.2 L1931.2 1354.9 L1931.6 1353.0 L1932.1 1344.6 L1932.6 1353.0 L1933.1 1345.4 L1933.6 1338.4 L1934.0 1343.7 L1934.5 1336.9 L1935.0 1361.1 L1935.4 1344.0 L1936.0 1364.4 L1936.3 1379.5 L1936.6 1371.4 L1936.9 1382.4 L1937.5 1381.9 L1938.2 1367.5 L1938.8 1366.3 L1939.3 1350.5 L1939.7 1358.1 L1940.1 1345.4 L1940.6 1339.3 L1941.1 1346.6 L1941.7 1340.6 L1942.1 1354.1 L1942.5 1344.5 L1943.0 1356.8 L1943.3 1357.3 L1943.6 1376.9 L1943.9 1377.7 L1944.3 1357.6 L1944.7 1354.9 L1945.1 1337.8 L1945.8 1322.6 L1946.4 1339.7 L1946.8 1328.4 L1947.4 1345.4 L1947.8 1359.7 L1948.2 1352.3 L1948.7 1363.4 L1949.2 1359.3 L1949.7 1343.7 L1950.2 1337.8 L1950.6 1330.6 L1951.1 1338.2 L1951.5 1332.1 L1951.9 1315.2 L1952.3 1327.4 L1952.7 1311.2 L1953.1 1303.9 L1953.6 1306.7 L1954.0 1299.8 L1954.3 1297.1 L1954.6 1284.4 L1955.0 1280.9 L1955.3 1267.6 L1955.8 1268.5 L1956.3 1261.2 L1956.9 1261.9 L1957.2 1258.5 L1957.5 1263.4 L1957.8 1260.0 L1958.2 1260.1 L1958.7 1248.9 L1959.1 1246.7 L1959.5 1248.1 L1959.9 1268.6 L1960.3 1271.4 L1960.7 1255.2 L1961.1 1266.4 L1961.6 1248.6 L1961.9 1235.5 L1962.2 1241.1 L1962.5 1231.5 L1962.9 1225.1 L1963.2 1229.6 L1963.5 1222.0 L1964.0 1236.0 L1964.4 1227.0 L1964.8 1242.9 L1965.2 1257.2 L1965.4 1249.2 L1965.8 1260.0 L1966.2 1270.0 L1966.5 1262.4 L1966.9 1271.4 L1967.4 1281.5 L1967.8 1273.8 L1968.2 1286.5 L1968.7 1290.6 L1969.1 1286.3 L1969.6 1289.4 L1970.1 1270.9 L1970.6 1279.2 L1971.1 1262.8 L1971.5 1269.8 L1972.0 1284.8 L1972.4 1292.2 L1972.9 1290.7 L1973.4 1297.2 L1973.9 1296.0 L1974.3 1282.0 L1974.6 1284.5 L1974.9 1273.3 L1975.5 1278.6 L1976.1 1271.8 L1976.8 1277.1 L1977.1 1278.4 L1977.4 1290.4 L1977.7 1292.2 L1978.1 1312.4 L1978.4 1296.3 L1978.7 1318.8 L1979.2 1331.2 L1979.7 1334.1 L1980.2 1345.4 L1980.7 1325.3 L1981.1 1337.9 L1981.5 1318.8 L1982.0 1310.5 L1982.4 1309.2 L1982.9 1301.7 L1983.4 1330.9 L1983.8 1313.4 L1984.4 1337.8 L1985.0 1336.4 L1985.6 1356.0 L1986.3 1354.9 L1986.9 1339.7 L1987.5 1342.6 L1988.2 1330.2 L1988.7 1349.4 L1989.2 1338.3 L1989.7 1353.0 L1990.1 1366.5 L1990.6 1360.4 L1991.0 1372.0 L1991.5 1360.9 L1991.9 1366.8 L1992.4 1356.8 L1992.7 1329.3 L1993.0 1348.0 L1993.3 1318.8 L1993.8 1332.0 L1994.3 1324.7 L1994.8 1337.8 L1995.3 1364.0 L1995.7 1347.0 L1996.1 1377.7 L1996.6 1376.9 L1997.2 1358.8 L1997.7 1356.8 L1998.0 1334.0 L1998.3 1351.5 L1998.6 1325.5 L1999.2 1327.0 L1999.9 1321.1 L2000.5 1322.6 L2001.0 1335.0 L2001.5 1325.7 L2002.0 1337.8 L2002.5 1348.8 L2002.9 1342.5 L2003.4 1352.0 L2004.0 1347.0 L2004.6 1329.4 L2005.3 1323.6 L2005.9 1324.2 L2006.5 1335.2 L2007.2 1337.8 L2007.5 1363.9 L2007.8 1344.9 L2008.1 1370.1 L2008.6 1342.9 L2009.0 1358.6 L2009.4 1339.7 L2009.8 1323.7 L2010.2 1333.3 L2010.6 1318.8 L2011.1 1319.2 L2011.7 1311.8 L2012.3 1311.2 L2012.8 1338.9 L2013.3 1317.6 L2013.8 1348.2 L2014.2 1341.3 L2014.7 1326.2 L2015.1 1318.8 L2015.5 1308.0 L2015.9 1310.9 L2016.3 1301.7 L2016.8 1311.0 L2017.4 1306.0 L2018.0 1313.1 L2018.5 1321.1 L2019.0 1315.6 L2019.5 1322.6 L2020.0 1342.0 L2020.4 1328.6 L2020.8 1351.1 L2021.3 1358.2 L2021.8 1356.2 L2022.3 1363.4 L2022.8 1364.9 L2023.2 1352.0 L2023.7 1353.0 L2024.2 1354.5 L2024.7 1345.8 L2025.2 1347.3 L2025.7 1343.9 L2026.2 1348.8 L2026.7 1345.4 L2027.2 1357.2 L2027.6 1354.7 L2028.0 1366.3 L2028.5 1364.8 L2029.0 1373.5 L2029.6 1372.0 L2030.0 1371.0 L2030.4 1358.5 L2030.9 1356.8" fill="none" stroke="#000" stroke-width="2" stroke-linejoin="round"/>
<path d="M221.8 1407.9 V1396.8 M295.8 1407.9 V1396.8 M369.9 1407.9 V1382.8 M443.9 1407.9 V1396.8 M517.9 1407.9 V1396.8 M592.0 1407.9 V1396.8 M666.0 1407.9 V1396.8 M740.0 1407.9 V1382.8 M814.1 1407.9 V1396.8 M888.1 1407.9 V1396.8 M962.1 1407.9 V1396.8 M1036.2 1407.9 V1396.8 M1110.2 1407.9 V1382.8 M1184.2 1407.9 V1396.8 M1258.3 1407.9 V1396.8 M1332.3 1407.9 V1396.8 M1406.3 1407.9 V1396.8 M1480.4 1407.9 V1382.8 M1554.4 1407.9 V1396.8 M1628.4 1407.9 V1396.8 M1702.5 1407.9 V1396.8 M1776.5 1407.9 V1396.8 M1850.5 1407.9 V1382.8 M1924.6 1407.9 V1396.8 M1998.6 1407.9 V1396.8" stroke="#000" stroke-width="9.6" stroke-linecap="round" fill="none"/>
<rect x="184.8" y="40.8" width="1850.9" height="1370.1" fill="none" stroke="#000" stroke-width="9.6"/>
<text class="ab" font-size="84" text-anchor="middle" transform="translate(369.4 1506.8)">20</text>
<text class="ab" font-size="84" text-anchor="middle" transform="translate(739.5 1506.8)">30</text>
<text class="ab" font-size="84" text-anchor="middle" transform="translate(1109.7 1506.8)">40</text>
<text class="ab" font-size="84" text-anchor="middle" transform="translate(1479.9 1506.8)">50</text>
<text class="ab" font-size="84" text-anchor="middle" transform="translate(1850.0 1506.8)">60</text>
<text class="ab" font-size="110" transform="translate(110.9 1033.8) rotate(-90) scale(1 1.025)">Intensity, cps</text>
<text class="ab" font-size="110" transform="translate(941.6 1589)">2</text>
<text class="tr" font-size="107" transform="translate(1000.8 1589) scale(1.155 0.96)">θ</text>
<text class="ab" font-size="107.5" transform="translate(1098.8 1589) scale(1 1.0)">,</text>
<text class="ab" font-size="108.5" transform="translate(1161.5 1589) scale(1 1.0)">deg</text>
<rect x="722" y="511" width="38" height="39" fill="#000"/>
<circle cx="787.8" cy="765.8" r="20.9" fill="none" stroke="#000" stroke-width="3.6"/>
<circle cx="1270" cy="971.1" r="20.9" fill="none" stroke="#000" stroke-width="3.6"/>
<polygon points="811.1,89.4 816.5,106.1 834.1,106.1 819.9,116.5 825.3,133.2 811.1,122.8 796.9,133.2 802.3,116.5 788.1,106.1 805.7,106.1" fill="#fff" stroke="#000" stroke-width="3"/>
<polygon points="862.7,73.5 880.0,67.9 880.0,49.6 890.8,64.4 908.1,58.7 897.4,73.5 908.1,88.3 890.8,82.6 880.0,97.4 880.0,79.1" fill="#000"/>
<polygon points="1622.4,1232.7 1639.9,1227.0 1639.9,1208.6 1650.7,1223.5 1668.2,1217.8 1657.4,1232.7 1668.2,1247.6 1650.7,1241.9 1639.9,1256.8 1639.9,1238.4" fill="#000"/>
<polygon points="1775.2,1051.2 1780.6,1067.9 1798.2,1067.9 1784.0,1078.3 1789.4,1095.0 1775.2,1084.6 1761.0,1095.0 1766.4,1078.3 1752.2,1067.9 1769.8,1067.9" fill="#fff" stroke="#000" stroke-width="3"/>
<polygon points="1583.5,1063.3 1557.9,1108.8 1608.8,1108.8" fill="#000"/>
<rect x="1944.5" y="1163.7" width="36.2" height="37" fill="none" stroke="#000" stroke-width="3"/>
<rect x="1990.6" y="1242.5" width="37" height="36.8" fill="none" stroke="#000" stroke-width="3"/>
<polygon points="1217.8,119.4 1238.7,112.6 1238.7,90.7 1251.6,108.4 1272.4,101.6 1259.5,119.4 1272.4,137.2 1251.6,130.4 1238.7,148.1 1238.7,126.2" fill="#fff" stroke="#000" stroke-width="3"/>
<polygon points="1245.4,223.3 1253.4,247.8 1279.2,247.8 1258.3,263.0 1266.3,287.5 1245.4,272.4 1224.5,287.5 1232.5,263.0 1211.6,247.8 1237.4,247.8" fill="#000"/>
<circle cx="1244.5" cy="387.5" r="26.5" fill="none" stroke="#000" stroke-width="3.4"/>
<rect x="1218.7" y="494" width="51.6" height="50.9" fill="none" stroke="#000" stroke-width="3.8"/>
<polygon points="1245.4,626.3 1213.8,683 1277.5,683" fill="#000"/>
<rect x="1217" y="766.9" width="48.2" height="48.1" fill="#000"/>
<text class="ab" font-size="80" x="1284.0" y="148.4">-</text>
<text class="tb" font-size="78.4" x="1329.0" y="145.4">MgHPO<tspan dy="31">4</tspan><tspan dy="-31"><tspan font-weight="normal">·</tspan>  3H</tspan><tspan dy="31">2</tspan><tspan dy="-31">O</tspan></text>
<text class="ab" font-size="80" x="1284.0" y="285.6">-</text>
<text class="tb" font-size="78.4" x="1329.0" y="282.6">MnHPO<tspan dy="31">4</tspan><tspan dy="-31"><tspan font-weight="normal">·</tspan>  2.25H</tspan><tspan dy="31">2</tspan><tspan dy="-31">O</tspan></text>
<text class="ab" font-size="80" x="1284.0" y="417.0">-</text>
<text class="tb" font-size="78.4" x="1328.7" y="414.0">BaHPO<tspan dy="31">4</tspan><tspan dy="-31"><tspan font-weight="normal">·</tspan>  3H</tspan><tspan dy="31">2</tspan><tspan dy="-31">O</tspan></text>
<text class="ab" font-size="80" x="1284.0" y="548.4">-</text>
<text class="tb" font-size="78.4" x="1329.5" y="545.4">Ca<tspan dy="31">3</tspan><tspan dy="-31">(PO</tspan><tspan dy="31">4</tspan><tspan dy="-31">)</tspan><tspan dy="31">2</tspan><tspan dy="-31"><tspan font-weight="normal">·</tspan>  xH</tspan><tspan dy="31">2</tspan><tspan dy="-31">O</tspan></text>
<text class="ab" font-size="80" x="1283.0" y="683.1">-</text>
<text class="tb" font-size="78.4" x="1329.0" y="682.6">Mg<tspan dy="31">3</tspan><tspan dy="-31">(PO</tspan><tspan dy="31">4</tspan><tspan dy="-31">)</tspan><tspan dy="31">2</tspan><tspan dy="-31"><tspan font-weight="normal">·</tspan>  22H</tspan><tspan dy="31">2</tspan><tspan dy="-31">O</tspan></text>
<text class="ab" font-size="80" x="1303.0" y="817.0">-</text>
<text class="tb" font-size="78.4" x="1348.0" y="814.0">BaMg<tspan dy="31">2</tspan><tspan dy="-31">(PO</tspan><tspan dy="31">4</tspan><tspan dy="-31">)</tspan><tspan dy="31">2</tspan></text>
</svg>
</body></html>
